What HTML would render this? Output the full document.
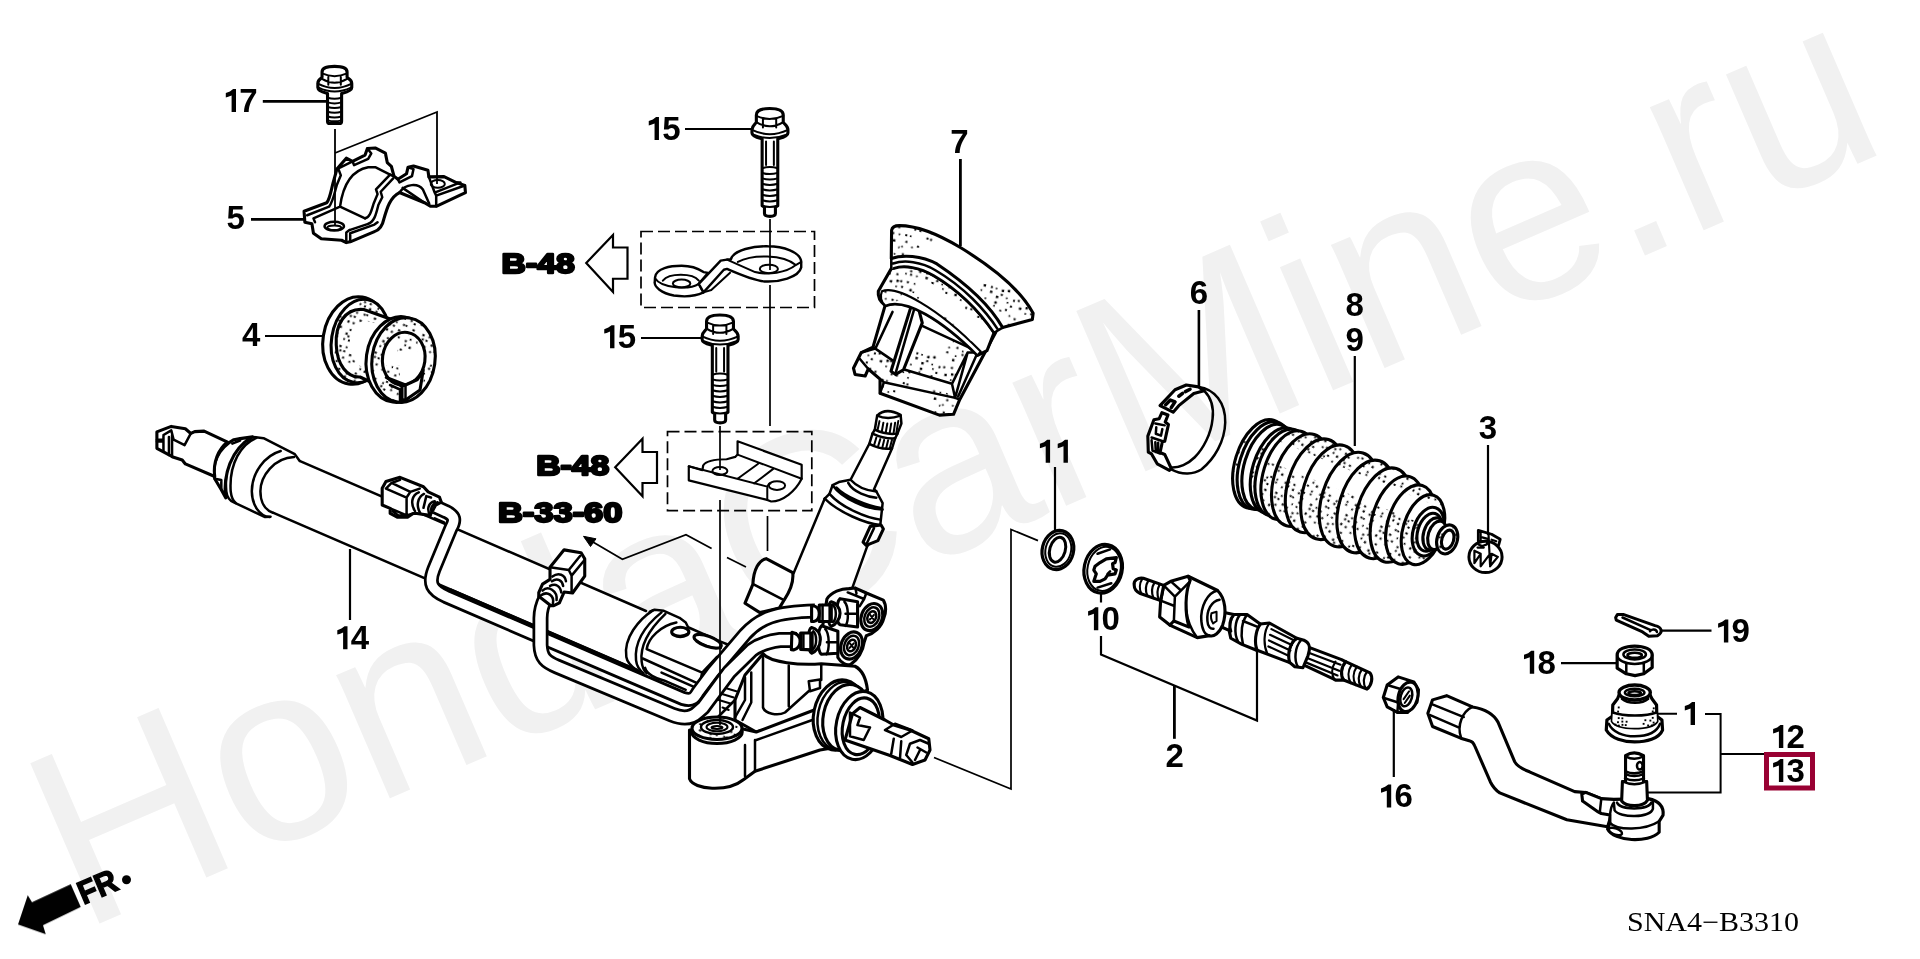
<!DOCTYPE html>
<html><head><meta charset="utf-8"><title>SNA4-B3310</title>
<style>
html,body{margin:0;padding:0;background:#fff;}
body{width:1920px;height:959px;overflow:hidden;font-family:"Liberation Sans",sans-serif;}
svg{display:block;position:absolute;left:0;top:0;}
svg *{vector-effect:non-scaling-stroke;}
.o{fill:none;stroke:#000;stroke-width:2.5;stroke-linejoin:round;stroke-linecap:round;}
.w{fill:#fff;stroke:#000;stroke-width:3.1;stroke-linejoin:round;stroke-linecap:round;}
.t{fill:none;stroke:#000;stroke-width:2;stroke-linejoin:round;stroke-linecap:round;}
.tw{fill:#fff;stroke:#000;stroke-width:2;stroke-linejoin:round;stroke-linecap:round;}
.l{fill:none;stroke:#000;stroke-width:2.2;}
.d{fill:url(#dots);stroke:#000;stroke-width:2;stroke-linejoin:round;}
.dn{fill:url(#dots);stroke:none;}
.d4{fill:url(#dots4);stroke:#000;stroke-width:2.8;stroke-linejoin:round;}.dn4{fill:url(#dots4);stroke:none;}
.d6{fill:url(#dots6);stroke:#000;stroke-width:2.8;stroke-linejoin:round;}.dn6{fill:url(#dots6);stroke:none;}
.d3{fill:url(#dots3);stroke:#000;stroke-width:2.8;stroke-linejoin:round;}.dn3{fill:url(#dots3);stroke:none;}
.d29{fill:url(#dots29);stroke:#000;stroke-width:2.8;stroke-linejoin:round;}.dn29{fill:url(#dots29);stroke:none;}
.dn5{fill:url(#dots5);stroke:none;}.dn10{fill:url(#dots10);stroke:none;}.dn8{fill:url(#dots8);stroke:none;}.dd4{fill:url(#dd4);stroke:none;}.dd8{fill:url(#dd8);stroke:none;}.dd5{fill:url(#dd5);stroke:none;}
.n{font-family:"Liberation Sans",sans-serif;font-weight:bold;font-size:33px;fill:#000;stroke:none;}
.b{font-family:"Liberation Sans",sans-serif;font-weight:bold;font-size:28.5px;fill:#000;stroke:#000;stroke-width:2.4;stroke-linejoin:round;}
</style></head><body>
<svg width="1920" height="959" viewBox="0 0 1920 959">
<defs>
<pattern id="dots" width="66" height="66" patternUnits="userSpaceOnUse" patternTransform="scale(1.0000) rotate(12)"><rect x="3.1" y="9.9" width="2.0" height="2.0" fill="#000"/><rect x="4.6" y="16.4" width="2.0" height="2.0" fill="#000"/><rect x="1.5" y="22.2" width="1.6" height="1.6" fill="#000"/><rect x="3.7" y="29.2" width="2.0" height="2.0" fill="#000"/><rect x="3.8" y="37.8" width="1.6" height="1.6" fill="#000"/><rect x="1.9" y="41.8" width="2.4" height="2.4" fill="#000"/><rect x="2.5" y="49.9" width="2.0" height="2.0" fill="#000"/><rect x="3.9" y="56.1" width="2.4" height="2.4" fill="#000"/><rect x="4.0" y="62.3" width="1.6" height="1.6" fill="#000"/><rect x="10.8" y="2.5" width="2.0" height="2.0" fill="#000"/><rect x="7.8" y="10.2" width="1.6" height="1.6" fill="#000"/><rect x="11.4" y="20.9" width="1.6" height="1.6" fill="#000"/><rect x="9.8" y="31.8" width="1.6" height="1.6" fill="#000"/><rect x="10.2" y="35.0" width="2.0" height="2.0" fill="#000"/><rect x="11.0" y="47.8" width="1.6" height="1.6" fill="#000"/><rect x="7.7" y="55.9" width="2.0" height="2.0" fill="#000"/><rect x="9.7" y="61.3" width="2.0" height="2.0" fill="#000"/><rect x="16.1" y="2.8" width="2.0" height="2.0" fill="#000"/><rect x="16.9" y="18.7" width="2.0" height="2.0" fill="#000"/><rect x="15.4" y="44.1" width="2.0" height="2.0" fill="#000"/><rect x="16.0" y="47.6" width="2.0" height="2.0" fill="#000"/><rect x="14.4" y="55.5" width="2.0" height="2.0" fill="#000"/><rect x="18.5" y="62.6" width="2.4" height="2.4" fill="#000"/><rect x="24.5" y="8.8" width="2.0" height="2.0" fill="#000"/><rect x="24.2" y="42.4" width="2.4" height="2.4" fill="#000"/><rect x="22.2" y="48.1" width="1.6" height="1.6" fill="#000"/><rect x="21.5" y="56.0" width="1.6" height="1.6" fill="#000"/><rect x="22.1" y="64.5" width="1.6" height="1.6" fill="#000"/><rect x="27.8" y="2.9" width="1.6" height="1.6" fill="#000"/><rect x="28.3" y="9.3" width="2.0" height="2.0" fill="#000"/><rect x="31.6" y="42.8" width="2.0" height="2.0" fill="#000"/><rect x="31.7" y="47.4" width="2.4" height="2.4" fill="#000"/><rect x="27.8" y="55.3" width="1.6" height="1.6" fill="#000"/><rect x="27.8" y="62.9" width="2.0" height="2.0" fill="#000"/><rect x="36.7" y="43.4" width="1.6" height="1.6" fill="#000"/><rect x="38.5" y="51.2" width="2.4" height="2.4" fill="#000"/><rect x="38.2" y="57.0" width="2.4" height="2.4" fill="#000"/><rect x="37.8" y="60.9" width="1.6" height="1.6" fill="#000"/><rect x="43.0" y="44.0" width="2.4" height="2.4" fill="#000"/><rect x="42.9" y="48.4" width="2.0" height="2.0" fill="#000"/><rect x="44.7" y="64.4" width="2.0" height="2.0" fill="#000"/><rect x="49.0" y="43.0" width="2.4" height="2.4" fill="#000"/><rect x="48.7" y="50.9" width="1.6" height="1.6" fill="#000"/><rect x="50.3" y="55.1" width="1.6" height="1.6" fill="#000"/><rect x="50.1" y="62.3" width="2.0" height="2.0" fill="#000"/><rect x="54.9" y="1.7" width="1.6" height="1.6" fill="#000"/><rect x="55.9" y="10.5" width="2.0" height="2.0" fill="#000"/><rect x="58.1" y="17.3" width="2.4" height="2.4" fill="#000"/><rect x="56.1" y="51.7" width="2.0" height="2.0" fill="#000"/><rect x="54.3" y="58.0" width="2.0" height="2.0" fill="#000"/><rect x="60.5" y="3.5" width="2.0" height="2.0" fill="#000"/><rect x="62.5" y="10.6" width="1.6" height="1.6" fill="#000"/><rect x="64.8" y="23.3" width="2.0" height="2.0" fill="#000"/><rect x="61.7" y="30.7" width="1.6" height="1.6" fill="#000"/><rect x="60.7" y="35.6" width="2.0" height="2.0" fill="#000"/><rect x="60.8" y="50.8" width="2.0" height="2.0" fill="#000"/><rect x="63.5" y="57.9" width="2.4" height="2.4" fill="#000"/></pattern><pattern id="dots4" width="66" height="66" patternUnits="userSpaceOnUse" patternTransform="scale(4.0000) rotate(12)"><rect x="3.1" y="9.9" width="2.0" height="2.0" fill="#000"/><rect x="4.6" y="16.4" width="2.0" height="2.0" fill="#000"/><rect x="1.5" y="22.2" width="1.6" height="1.6" fill="#000"/><rect x="3.7" y="29.2" width="2.0" height="2.0" fill="#000"/><rect x="3.8" y="37.8" width="1.6" height="1.6" fill="#000"/><rect x="1.9" y="41.8" width="2.4" height="2.4" fill="#000"/><rect x="2.5" y="49.9" width="2.0" height="2.0" fill="#000"/><rect x="3.9" y="56.1" width="2.4" height="2.4" fill="#000"/><rect x="4.0" y="62.3" width="1.6" height="1.6" fill="#000"/><rect x="10.8" y="2.5" width="2.0" height="2.0" fill="#000"/><rect x="7.8" y="10.2" width="1.6" height="1.6" fill="#000"/><rect x="11.4" y="20.9" width="1.6" height="1.6" fill="#000"/><rect x="9.8" y="31.8" width="1.6" height="1.6" fill="#000"/><rect x="10.2" y="35.0" width="2.0" height="2.0" fill="#000"/><rect x="11.0" y="47.8" width="1.6" height="1.6" fill="#000"/><rect x="7.7" y="55.9" width="2.0" height="2.0" fill="#000"/><rect x="9.7" y="61.3" width="2.0" height="2.0" fill="#000"/><rect x="16.1" y="2.8" width="2.0" height="2.0" fill="#000"/><rect x="16.9" y="18.7" width="2.0" height="2.0" fill="#000"/><rect x="15.4" y="44.1" width="2.0" height="2.0" fill="#000"/><rect x="16.0" y="47.6" width="2.0" height="2.0" fill="#000"/><rect x="14.4" y="55.5" width="2.0" height="2.0" fill="#000"/><rect x="18.5" y="62.6" width="2.4" height="2.4" fill="#000"/><rect x="24.5" y="8.8" width="2.0" height="2.0" fill="#000"/><rect x="24.2" y="42.4" width="2.4" height="2.4" fill="#000"/><rect x="22.2" y="48.1" width="1.6" height="1.6" fill="#000"/><rect x="21.5" y="56.0" width="1.6" height="1.6" fill="#000"/><rect x="22.1" y="64.5" width="1.6" height="1.6" fill="#000"/><rect x="27.8" y="2.9" width="1.6" height="1.6" fill="#000"/><rect x="28.3" y="9.3" width="2.0" height="2.0" fill="#000"/><rect x="31.6" y="42.8" width="2.0" height="2.0" fill="#000"/><rect x="31.7" y="47.4" width="2.4" height="2.4" fill="#000"/><rect x="27.8" y="55.3" width="1.6" height="1.6" fill="#000"/><rect x="27.8" y="62.9" width="2.0" height="2.0" fill="#000"/><rect x="36.7" y="43.4" width="1.6" height="1.6" fill="#000"/><rect x="38.5" y="51.2" width="2.4" height="2.4" fill="#000"/><rect x="38.2" y="57.0" width="2.4" height="2.4" fill="#000"/><rect x="37.8" y="60.9" width="1.6" height="1.6" fill="#000"/><rect x="43.0" y="44.0" width="2.4" height="2.4" fill="#000"/><rect x="42.9" y="48.4" width="2.0" height="2.0" fill="#000"/><rect x="44.7" y="64.4" width="2.0" height="2.0" fill="#000"/><rect x="49.0" y="43.0" width="2.4" height="2.4" fill="#000"/><rect x="48.7" y="50.9" width="1.6" height="1.6" fill="#000"/><rect x="50.3" y="55.1" width="1.6" height="1.6" fill="#000"/><rect x="50.1" y="62.3" width="2.0" height="2.0" fill="#000"/><rect x="54.9" y="1.7" width="1.6" height="1.6" fill="#000"/><rect x="55.9" y="10.5" width="2.0" height="2.0" fill="#000"/><rect x="58.1" y="17.3" width="2.4" height="2.4" fill="#000"/><rect x="56.1" y="51.7" width="2.0" height="2.0" fill="#000"/><rect x="54.3" y="58.0" width="2.0" height="2.0" fill="#000"/><rect x="60.5" y="3.5" width="2.0" height="2.0" fill="#000"/><rect x="62.5" y="10.6" width="1.6" height="1.6" fill="#000"/><rect x="64.8" y="23.3" width="2.0" height="2.0" fill="#000"/><rect x="61.7" y="30.7" width="1.6" height="1.6" fill="#000"/><rect x="60.7" y="35.6" width="2.0" height="2.0" fill="#000"/><rect x="60.8" y="50.8" width="2.0" height="2.0" fill="#000"/><rect x="63.5" y="57.9" width="2.4" height="2.4" fill="#000"/></pattern><pattern id="dots6" width="66" height="66" patternUnits="userSpaceOnUse" patternTransform="scale(6.3951) rotate(12)"><rect x="3.1" y="9.9" width="2.0" height="2.0" fill="#000"/><rect x="4.6" y="16.4" width="2.0" height="2.0" fill="#000"/><rect x="1.5" y="22.2" width="1.6" height="1.6" fill="#000"/><rect x="3.7" y="29.2" width="2.0" height="2.0" fill="#000"/><rect x="3.8" y="37.8" width="1.6" height="1.6" fill="#000"/><rect x="1.9" y="41.8" width="2.4" height="2.4" fill="#000"/><rect x="2.5" y="49.9" width="2.0" height="2.0" fill="#000"/><rect x="3.9" y="56.1" width="2.4" height="2.4" fill="#000"/><rect x="4.0" y="62.3" width="1.6" height="1.6" fill="#000"/><rect x="10.8" y="2.5" width="2.0" height="2.0" fill="#000"/><rect x="7.8" y="10.2" width="1.6" height="1.6" fill="#000"/><rect x="11.4" y="20.9" width="1.6" height="1.6" fill="#000"/><rect x="9.8" y="31.8" width="1.6" height="1.6" fill="#000"/><rect x="10.2" y="35.0" width="2.0" height="2.0" fill="#000"/><rect x="11.0" y="47.8" width="1.6" height="1.6" fill="#000"/><rect x="7.7" y="55.9" width="2.0" height="2.0" fill="#000"/><rect x="9.7" y="61.3" width="2.0" height="2.0" fill="#000"/><rect x="16.1" y="2.8" width="2.0" height="2.0" fill="#000"/><rect x="16.9" y="18.7" width="2.0" height="2.0" fill="#000"/><rect x="15.4" y="44.1" width="2.0" height="2.0" fill="#000"/><rect x="16.0" y="47.6" width="2.0" height="2.0" fill="#000"/><rect x="14.4" y="55.5" width="2.0" height="2.0" fill="#000"/><rect x="18.5" y="62.6" width="2.4" height="2.4" fill="#000"/><rect x="24.5" y="8.8" width="2.0" height="2.0" fill="#000"/><rect x="24.2" y="42.4" width="2.4" height="2.4" fill="#000"/><rect x="22.2" y="48.1" width="1.6" height="1.6" fill="#000"/><rect x="21.5" y="56.0" width="1.6" height="1.6" fill="#000"/><rect x="22.1" y="64.5" width="1.6" height="1.6" fill="#000"/><rect x="27.8" y="2.9" width="1.6" height="1.6" fill="#000"/><rect x="28.3" y="9.3" width="2.0" height="2.0" fill="#000"/><rect x="31.6" y="42.8" width="2.0" height="2.0" fill="#000"/><rect x="31.7" y="47.4" width="2.4" height="2.4" fill="#000"/><rect x="27.8" y="55.3" width="1.6" height="1.6" fill="#000"/><rect x="27.8" y="62.9" width="2.0" height="2.0" fill="#000"/><rect x="36.7" y="43.4" width="1.6" height="1.6" fill="#000"/><rect x="38.5" y="51.2" width="2.4" height="2.4" fill="#000"/><rect x="38.2" y="57.0" width="2.4" height="2.4" fill="#000"/><rect x="37.8" y="60.9" width="1.6" height="1.6" fill="#000"/><rect x="43.0" y="44.0" width="2.4" height="2.4" fill="#000"/><rect x="42.9" y="48.4" width="2.0" height="2.0" fill="#000"/><rect x="44.7" y="64.4" width="2.0" height="2.0" fill="#000"/><rect x="49.0" y="43.0" width="2.4" height="2.4" fill="#000"/><rect x="48.7" y="50.9" width="1.6" height="1.6" fill="#000"/><rect x="50.3" y="55.1" width="1.6" height="1.6" fill="#000"/><rect x="50.1" y="62.3" width="2.0" height="2.0" fill="#000"/><rect x="54.9" y="1.7" width="1.6" height="1.6" fill="#000"/><rect x="55.9" y="10.5" width="2.0" height="2.0" fill="#000"/><rect x="58.1" y="17.3" width="2.4" height="2.4" fill="#000"/><rect x="56.1" y="51.7" width="2.0" height="2.0" fill="#000"/><rect x="54.3" y="58.0" width="2.0" height="2.0" fill="#000"/><rect x="60.5" y="3.5" width="2.0" height="2.0" fill="#000"/><rect x="62.5" y="10.6" width="1.6" height="1.6" fill="#000"/><rect x="64.8" y="23.3" width="2.0" height="2.0" fill="#000"/><rect x="61.7" y="30.7" width="1.6" height="1.6" fill="#000"/><rect x="60.7" y="35.6" width="2.0" height="2.0" fill="#000"/><rect x="60.8" y="50.8" width="2.0" height="2.0" fill="#000"/><rect x="63.5" y="57.9" width="2.4" height="2.4" fill="#000"/></pattern><pattern id="dots3" width="66" height="66" patternUnits="userSpaceOnUse" patternTransform="scale(2.9969) rotate(12)"><rect x="3.1" y="9.9" width="2.0" height="2.0" fill="#000"/><rect x="4.6" y="16.4" width="2.0" height="2.0" fill="#000"/><rect x="1.5" y="22.2" width="1.6" height="1.6" fill="#000"/><rect x="3.7" y="29.2" width="2.0" height="2.0" fill="#000"/><rect x="3.8" y="37.8" width="1.6" height="1.6" fill="#000"/><rect x="1.9" y="41.8" width="2.4" height="2.4" fill="#000"/><rect x="2.5" y="49.9" width="2.0" height="2.0" fill="#000"/><rect x="3.9" y="56.1" width="2.4" height="2.4" fill="#000"/><rect x="4.0" y="62.3" width="1.6" height="1.6" fill="#000"/><rect x="10.8" y="2.5" width="2.0" height="2.0" fill="#000"/><rect x="7.8" y="10.2" width="1.6" height="1.6" fill="#000"/><rect x="11.4" y="20.9" width="1.6" height="1.6" fill="#000"/><rect x="9.8" y="31.8" width="1.6" height="1.6" fill="#000"/><rect x="10.2" y="35.0" width="2.0" height="2.0" fill="#000"/><rect x="11.0" y="47.8" width="1.6" height="1.6" fill="#000"/><rect x="7.7" y="55.9" width="2.0" height="2.0" fill="#000"/><rect x="9.7" y="61.3" width="2.0" height="2.0" fill="#000"/><rect x="16.1" y="2.8" width="2.0" height="2.0" fill="#000"/><rect x="16.9" y="18.7" width="2.0" height="2.0" fill="#000"/><rect x="15.4" y="44.1" width="2.0" height="2.0" fill="#000"/><rect x="16.0" y="47.6" width="2.0" height="2.0" fill="#000"/><rect x="14.4" y="55.5" width="2.0" height="2.0" fill="#000"/><rect x="18.5" y="62.6" width="2.4" height="2.4" fill="#000"/><rect x="24.5" y="8.8" width="2.0" height="2.0" fill="#000"/><rect x="24.2" y="42.4" width="2.4" height="2.4" fill="#000"/><rect x="22.2" y="48.1" width="1.6" height="1.6" fill="#000"/><rect x="21.5" y="56.0" width="1.6" height="1.6" fill="#000"/><rect x="22.1" y="64.5" width="1.6" height="1.6" fill="#000"/><rect x="27.8" y="2.9" width="1.6" height="1.6" fill="#000"/><rect x="28.3" y="9.3" width="2.0" height="2.0" fill="#000"/><rect x="31.6" y="42.8" width="2.0" height="2.0" fill="#000"/><rect x="31.7" y="47.4" width="2.4" height="2.4" fill="#000"/><rect x="27.8" y="55.3" width="1.6" height="1.6" fill="#000"/><rect x="27.8" y="62.9" width="2.0" height="2.0" fill="#000"/><rect x="36.7" y="43.4" width="1.6" height="1.6" fill="#000"/><rect x="38.5" y="51.2" width="2.4" height="2.4" fill="#000"/><rect x="38.2" y="57.0" width="2.4" height="2.4" fill="#000"/><rect x="37.8" y="60.9" width="1.6" height="1.6" fill="#000"/><rect x="43.0" y="44.0" width="2.4" height="2.4" fill="#000"/><rect x="42.9" y="48.4" width="2.0" height="2.0" fill="#000"/><rect x="44.7" y="64.4" width="2.0" height="2.0" fill="#000"/><rect x="49.0" y="43.0" width="2.4" height="2.4" fill="#000"/><rect x="48.7" y="50.9" width="1.6" height="1.6" fill="#000"/><rect x="50.3" y="55.1" width="1.6" height="1.6" fill="#000"/><rect x="50.1" y="62.3" width="2.0" height="2.0" fill="#000"/><rect x="54.9" y="1.7" width="1.6" height="1.6" fill="#000"/><rect x="55.9" y="10.5" width="2.0" height="2.0" fill="#000"/><rect x="58.1" y="17.3" width="2.4" height="2.4" fill="#000"/><rect x="56.1" y="51.7" width="2.0" height="2.0" fill="#000"/><rect x="54.3" y="58.0" width="2.0" height="2.0" fill="#000"/><rect x="60.5" y="3.5" width="2.0" height="2.0" fill="#000"/><rect x="62.5" y="10.6" width="1.6" height="1.6" fill="#000"/><rect x="64.8" y="23.3" width="2.0" height="2.0" fill="#000"/><rect x="61.7" y="30.7" width="1.6" height="1.6" fill="#000"/><rect x="60.7" y="35.6" width="2.0" height="2.0" fill="#000"/><rect x="60.8" y="50.8" width="2.0" height="2.0" fill="#000"/><rect x="63.5" y="57.9" width="2.4" height="2.4" fill="#000"/></pattern><pattern id="dots29" width="66" height="66" patternUnits="userSpaceOnUse" patternTransform="scale(2.9068) rotate(12)"><rect x="3.1" y="9.9" width="2.0" height="2.0" fill="#000"/><rect x="4.6" y="16.4" width="2.0" height="2.0" fill="#000"/><rect x="1.5" y="22.2" width="1.6" height="1.6" fill="#000"/><rect x="3.7" y="29.2" width="2.0" height="2.0" fill="#000"/><rect x="3.8" y="37.8" width="1.6" height="1.6" fill="#000"/><rect x="1.9" y="41.8" width="2.4" height="2.4" fill="#000"/><rect x="2.5" y="49.9" width="2.0" height="2.0" fill="#000"/><rect x="3.9" y="56.1" width="2.4" height="2.4" fill="#000"/><rect x="4.0" y="62.3" width="1.6" height="1.6" fill="#000"/><rect x="10.8" y="2.5" width="2.0" height="2.0" fill="#000"/><rect x="7.8" y="10.2" width="1.6" height="1.6" fill="#000"/><rect x="11.4" y="20.9" width="1.6" height="1.6" fill="#000"/><rect x="9.8" y="31.8" width="1.6" height="1.6" fill="#000"/><rect x="10.2" y="35.0" width="2.0" height="2.0" fill="#000"/><rect x="11.0" y="47.8" width="1.6" height="1.6" fill="#000"/><rect x="7.7" y="55.9" width="2.0" height="2.0" fill="#000"/><rect x="9.7" y="61.3" width="2.0" height="2.0" fill="#000"/><rect x="16.1" y="2.8" width="2.0" height="2.0" fill="#000"/><rect x="16.9" y="18.7" width="2.0" height="2.0" fill="#000"/><rect x="15.4" y="44.1" width="2.0" height="2.0" fill="#000"/><rect x="16.0" y="47.6" width="2.0" height="2.0" fill="#000"/><rect x="14.4" y="55.5" width="2.0" height="2.0" fill="#000"/><rect x="18.5" y="62.6" width="2.4" height="2.4" fill="#000"/><rect x="24.5" y="8.8" width="2.0" height="2.0" fill="#000"/><rect x="24.2" y="42.4" width="2.4" height="2.4" fill="#000"/><rect x="22.2" y="48.1" width="1.6" height="1.6" fill="#000"/><rect x="21.5" y="56.0" width="1.6" height="1.6" fill="#000"/><rect x="22.1" y="64.5" width="1.6" height="1.6" fill="#000"/><rect x="27.8" y="2.9" width="1.6" height="1.6" fill="#000"/><rect x="28.3" y="9.3" width="2.0" height="2.0" fill="#000"/><rect x="31.6" y="42.8" width="2.0" height="2.0" fill="#000"/><rect x="31.7" y="47.4" width="2.4" height="2.4" fill="#000"/><rect x="27.8" y="55.3" width="1.6" height="1.6" fill="#000"/><rect x="27.8" y="62.9" width="2.0" height="2.0" fill="#000"/><rect x="36.7" y="43.4" width="1.6" height="1.6" fill="#000"/><rect x="38.5" y="51.2" width="2.4" height="2.4" fill="#000"/><rect x="38.2" y="57.0" width="2.4" height="2.4" fill="#000"/><rect x="37.8" y="60.9" width="1.6" height="1.6" fill="#000"/><rect x="43.0" y="44.0" width="2.4" height="2.4" fill="#000"/><rect x="42.9" y="48.4" width="2.0" height="2.0" fill="#000"/><rect x="44.7" y="64.4" width="2.0" height="2.0" fill="#000"/><rect x="49.0" y="43.0" width="2.4" height="2.4" fill="#000"/><rect x="48.7" y="50.9" width="1.6" height="1.6" fill="#000"/><rect x="50.3" y="55.1" width="1.6" height="1.6" fill="#000"/><rect x="50.1" y="62.3" width="2.0" height="2.0" fill="#000"/><rect x="54.9" y="1.7" width="1.6" height="1.6" fill="#000"/><rect x="55.9" y="10.5" width="2.0" height="2.0" fill="#000"/><rect x="58.1" y="17.3" width="2.4" height="2.4" fill="#000"/><rect x="56.1" y="51.7" width="2.0" height="2.0" fill="#000"/><rect x="54.3" y="58.0" width="2.0" height="2.0" fill="#000"/><rect x="60.5" y="3.5" width="2.0" height="2.0" fill="#000"/><rect x="62.5" y="10.6" width="1.6" height="1.6" fill="#000"/><rect x="64.8" y="23.3" width="2.0" height="2.0" fill="#000"/><rect x="61.7" y="30.7" width="1.6" height="1.6" fill="#000"/><rect x="60.7" y="35.6" width="2.0" height="2.0" fill="#000"/><rect x="60.8" y="50.8" width="2.0" height="2.0" fill="#000"/><rect x="63.5" y="57.9" width="2.4" height="2.4" fill="#000"/></pattern><pattern id="dots5" width="66" height="66" patternUnits="userSpaceOnUse" patternTransform="scale(5.1280) rotate(12)"><rect x="3.1" y="9.9" width="2.0" height="2.0" fill="#000"/><rect x="4.6" y="16.4" width="2.0" height="2.0" fill="#000"/><rect x="1.5" y="22.2" width="1.6" height="1.6" fill="#000"/><rect x="3.7" y="29.2" width="2.0" height="2.0" fill="#000"/><rect x="3.8" y="37.8" width="1.6" height="1.6" fill="#000"/><rect x="1.9" y="41.8" width="2.4" height="2.4" fill="#000"/><rect x="2.5" y="49.9" width="2.0" height="2.0" fill="#000"/><rect x="3.9" y="56.1" width="2.4" height="2.4" fill="#000"/><rect x="4.0" y="62.3" width="1.6" height="1.6" fill="#000"/><rect x="10.8" y="2.5" width="2.0" height="2.0" fill="#000"/><rect x="7.8" y="10.2" width="1.6" height="1.6" fill="#000"/><rect x="11.4" y="20.9" width="1.6" height="1.6" fill="#000"/><rect x="9.8" y="31.8" width="1.6" height="1.6" fill="#000"/><rect x="10.2" y="35.0" width="2.0" height="2.0" fill="#000"/><rect x="11.0" y="47.8" width="1.6" height="1.6" fill="#000"/><rect x="7.7" y="55.9" width="2.0" height="2.0" fill="#000"/><rect x="9.7" y="61.3" width="2.0" height="2.0" fill="#000"/><rect x="16.1" y="2.8" width="2.0" height="2.0" fill="#000"/><rect x="16.9" y="18.7" width="2.0" height="2.0" fill="#000"/><rect x="15.4" y="44.1" width="2.0" height="2.0" fill="#000"/><rect x="16.0" y="47.6" width="2.0" height="2.0" fill="#000"/><rect x="14.4" y="55.5" width="2.0" height="2.0" fill="#000"/><rect x="18.5" y="62.6" width="2.4" height="2.4" fill="#000"/><rect x="24.5" y="8.8" width="2.0" height="2.0" fill="#000"/><rect x="24.2" y="42.4" width="2.4" height="2.4" fill="#000"/><rect x="22.2" y="48.1" width="1.6" height="1.6" fill="#000"/><rect x="21.5" y="56.0" width="1.6" height="1.6" fill="#000"/><rect x="22.1" y="64.5" width="1.6" height="1.6" fill="#000"/><rect x="27.8" y="2.9" width="1.6" height="1.6" fill="#000"/><rect x="28.3" y="9.3" width="2.0" height="2.0" fill="#000"/><rect x="31.6" y="42.8" width="2.0" height="2.0" fill="#000"/><rect x="31.7" y="47.4" width="2.4" height="2.4" fill="#000"/><rect x="27.8" y="55.3" width="1.6" height="1.6" fill="#000"/><rect x="27.8" y="62.9" width="2.0" height="2.0" fill="#000"/><rect x="36.7" y="43.4" width="1.6" height="1.6" fill="#000"/><rect x="38.5" y="51.2" width="2.4" height="2.4" fill="#000"/><rect x="38.2" y="57.0" width="2.4" height="2.4" fill="#000"/><rect x="37.8" y="60.9" width="1.6" height="1.6" fill="#000"/><rect x="43.0" y="44.0" width="2.4" height="2.4" fill="#000"/><rect x="42.9" y="48.4" width="2.0" height="2.0" fill="#000"/><rect x="44.7" y="64.4" width="2.0" height="2.0" fill="#000"/><rect x="49.0" y="43.0" width="2.4" height="2.4" fill="#000"/><rect x="48.7" y="50.9" width="1.6" height="1.6" fill="#000"/><rect x="50.3" y="55.1" width="1.6" height="1.6" fill="#000"/><rect x="50.1" y="62.3" width="2.0" height="2.0" fill="#000"/><rect x="54.9" y="1.7" width="1.6" height="1.6" fill="#000"/><rect x="55.9" y="10.5" width="2.0" height="2.0" fill="#000"/><rect x="58.1" y="17.3" width="2.4" height="2.4" fill="#000"/><rect x="56.1" y="51.7" width="2.0" height="2.0" fill="#000"/><rect x="54.3" y="58.0" width="2.0" height="2.0" fill="#000"/><rect x="60.5" y="3.5" width="2.0" height="2.0" fill="#000"/><rect x="62.5" y="10.6" width="1.6" height="1.6" fill="#000"/><rect x="64.8" y="23.3" width="2.0" height="2.0" fill="#000"/><rect x="61.7" y="30.7" width="1.6" height="1.6" fill="#000"/><rect x="60.7" y="35.6" width="2.0" height="2.0" fill="#000"/><rect x="60.8" y="50.8" width="2.0" height="2.0" fill="#000"/><rect x="63.5" y="57.9" width="2.4" height="2.4" fill="#000"/></pattern><pattern id="dots10" width="66" height="66" patternUnits="userSpaceOnUse" patternTransform="scale(10.6583) rotate(12)"><rect x="3.1" y="9.9" width="2.0" height="2.0" fill="#000"/><rect x="4.6" y="16.4" width="2.0" height="2.0" fill="#000"/><rect x="1.5" y="22.2" width="1.6" height="1.6" fill="#000"/><rect x="3.7" y="29.2" width="2.0" height="2.0" fill="#000"/><rect x="3.8" y="37.8" width="1.6" height="1.6" fill="#000"/><rect x="1.9" y="41.8" width="2.4" height="2.4" fill="#000"/><rect x="2.5" y="49.9" width="2.0" height="2.0" fill="#000"/><rect x="3.9" y="56.1" width="2.4" height="2.4" fill="#000"/><rect x="4.0" y="62.3" width="1.6" height="1.6" fill="#000"/><rect x="10.8" y="2.5" width="2.0" height="2.0" fill="#000"/><rect x="7.8" y="10.2" width="1.6" height="1.6" fill="#000"/><rect x="11.4" y="20.9" width="1.6" height="1.6" fill="#000"/><rect x="9.8" y="31.8" width="1.6" height="1.6" fill="#000"/><rect x="10.2" y="35.0" width="2.0" height="2.0" fill="#000"/><rect x="11.0" y="47.8" width="1.6" height="1.6" fill="#000"/><rect x="7.7" y="55.9" width="2.0" height="2.0" fill="#000"/><rect x="9.7" y="61.3" width="2.0" height="2.0" fill="#000"/><rect x="16.1" y="2.8" width="2.0" height="2.0" fill="#000"/><rect x="16.9" y="18.7" width="2.0" height="2.0" fill="#000"/><rect x="15.4" y="44.1" width="2.0" height="2.0" fill="#000"/><rect x="16.0" y="47.6" width="2.0" height="2.0" fill="#000"/><rect x="14.4" y="55.5" width="2.0" height="2.0" fill="#000"/><rect x="18.5" y="62.6" width="2.4" height="2.4" fill="#000"/><rect x="24.5" y="8.8" width="2.0" height="2.0" fill="#000"/><rect x="24.2" y="42.4" width="2.4" height="2.4" fill="#000"/><rect x="22.2" y="48.1" width="1.6" height="1.6" fill="#000"/><rect x="21.5" y="56.0" width="1.6" height="1.6" fill="#000"/><rect x="22.1" y="64.5" width="1.6" height="1.6" fill="#000"/><rect x="27.8" y="2.9" width="1.6" height="1.6" fill="#000"/><rect x="28.3" y="9.3" width="2.0" height="2.0" fill="#000"/><rect x="31.6" y="42.8" width="2.0" height="2.0" fill="#000"/><rect x="31.7" y="47.4" width="2.4" height="2.4" fill="#000"/><rect x="27.8" y="55.3" width="1.6" height="1.6" fill="#000"/><rect x="27.8" y="62.9" width="2.0" height="2.0" fill="#000"/><rect x="36.7" y="43.4" width="1.6" height="1.6" fill="#000"/><rect x="38.5" y="51.2" width="2.4" height="2.4" fill="#000"/><rect x="38.2" y="57.0" width="2.4" height="2.4" fill="#000"/><rect x="37.8" y="60.9" width="1.6" height="1.6" fill="#000"/><rect x="43.0" y="44.0" width="2.4" height="2.4" fill="#000"/><rect x="42.9" y="48.4" width="2.0" height="2.0" fill="#000"/><rect x="44.7" y="64.4" width="2.0" height="2.0" fill="#000"/><rect x="49.0" y="43.0" width="2.4" height="2.4" fill="#000"/><rect x="48.7" y="50.9" width="1.6" height="1.6" fill="#000"/><rect x="50.3" y="55.1" width="1.6" height="1.6" fill="#000"/><rect x="50.1" y="62.3" width="2.0" height="2.0" fill="#000"/><rect x="54.9" y="1.7" width="1.6" height="1.6" fill="#000"/><rect x="55.9" y="10.5" width="2.0" height="2.0" fill="#000"/><rect x="58.1" y="17.3" width="2.4" height="2.4" fill="#000"/><rect x="56.1" y="51.7" width="2.0" height="2.0" fill="#000"/><rect x="54.3" y="58.0" width="2.0" height="2.0" fill="#000"/><rect x="60.5" y="3.5" width="2.0" height="2.0" fill="#000"/><rect x="62.5" y="10.6" width="1.6" height="1.6" fill="#000"/><rect x="64.8" y="23.3" width="2.0" height="2.0" fill="#000"/><rect x="61.7" y="30.7" width="1.6" height="1.6" fill="#000"/><rect x="60.7" y="35.6" width="2.0" height="2.0" fill="#000"/><rect x="60.8" y="50.8" width="2.0" height="2.0" fill="#000"/><rect x="63.5" y="57.9" width="2.4" height="2.4" fill="#000"/></pattern><pattern id="dots8" width="66" height="66" patternUnits="userSpaceOnUse" patternTransform="scale(8.0000) rotate(12)"><rect x="3.1" y="9.9" width="2.0" height="2.0" fill="#000"/><rect x="4.6" y="16.4" width="2.0" height="2.0" fill="#000"/><rect x="1.5" y="22.2" width="1.6" height="1.6" fill="#000"/><rect x="3.7" y="29.2" width="2.0" height="2.0" fill="#000"/><rect x="3.8" y="37.8" width="1.6" height="1.6" fill="#000"/><rect x="1.9" y="41.8" width="2.4" height="2.4" fill="#000"/><rect x="2.5" y="49.9" width="2.0" height="2.0" fill="#000"/><rect x="3.9" y="56.1" width="2.4" height="2.4" fill="#000"/><rect x="4.0" y="62.3" width="1.6" height="1.6" fill="#000"/><rect x="10.8" y="2.5" width="2.0" height="2.0" fill="#000"/><rect x="7.8" y="10.2" width="1.6" height="1.6" fill="#000"/><rect x="11.4" y="20.9" width="1.6" height="1.6" fill="#000"/><rect x="9.8" y="31.8" width="1.6" height="1.6" fill="#000"/><rect x="10.2" y="35.0" width="2.0" height="2.0" fill="#000"/><rect x="11.0" y="47.8" width="1.6" height="1.6" fill="#000"/><rect x="7.7" y="55.9" width="2.0" height="2.0" fill="#000"/><rect x="9.7" y="61.3" width="2.0" height="2.0" fill="#000"/><rect x="16.1" y="2.8" width="2.0" height="2.0" fill="#000"/><rect x="16.9" y="18.7" width="2.0" height="2.0" fill="#000"/><rect x="15.4" y="44.1" width="2.0" height="2.0" fill="#000"/><rect x="16.0" y="47.6" width="2.0" height="2.0" fill="#000"/><rect x="14.4" y="55.5" width="2.0" height="2.0" fill="#000"/><rect x="18.5" y="62.6" width="2.4" height="2.4" fill="#000"/><rect x="24.5" y="8.8" width="2.0" height="2.0" fill="#000"/><rect x="24.2" y="42.4" width="2.4" height="2.4" fill="#000"/><rect x="22.2" y="48.1" width="1.6" height="1.6" fill="#000"/><rect x="21.5" y="56.0" width="1.6" height="1.6" fill="#000"/><rect x="22.1" y="64.5" width="1.6" height="1.6" fill="#000"/><rect x="27.8" y="2.9" width="1.6" height="1.6" fill="#000"/><rect x="28.3" y="9.3" width="2.0" height="2.0" fill="#000"/><rect x="31.6" y="42.8" width="2.0" height="2.0" fill="#000"/><rect x="31.7" y="47.4" width="2.4" height="2.4" fill="#000"/><rect x="27.8" y="55.3" width="1.6" height="1.6" fill="#000"/><rect x="27.8" y="62.9" width="2.0" height="2.0" fill="#000"/><rect x="36.7" y="43.4" width="1.6" height="1.6" fill="#000"/><rect x="38.5" y="51.2" width="2.4" height="2.4" fill="#000"/><rect x="38.2" y="57.0" width="2.4" height="2.4" fill="#000"/><rect x="37.8" y="60.9" width="1.6" height="1.6" fill="#000"/><rect x="43.0" y="44.0" width="2.4" height="2.4" fill="#000"/><rect x="42.9" y="48.4" width="2.0" height="2.0" fill="#000"/><rect x="44.7" y="64.4" width="2.0" height="2.0" fill="#000"/><rect x="49.0" y="43.0" width="2.4" height="2.4" fill="#000"/><rect x="48.7" y="50.9" width="1.6" height="1.6" fill="#000"/><rect x="50.3" y="55.1" width="1.6" height="1.6" fill="#000"/><rect x="50.1" y="62.3" width="2.0" height="2.0" fill="#000"/><rect x="54.9" y="1.7" width="1.6" height="1.6" fill="#000"/><rect x="55.9" y="10.5" width="2.0" height="2.0" fill="#000"/><rect x="58.1" y="17.3" width="2.4" height="2.4" fill="#000"/><rect x="56.1" y="51.7" width="2.0" height="2.0" fill="#000"/><rect x="54.3" y="58.0" width="2.0" height="2.0" fill="#000"/><rect x="60.5" y="3.5" width="2.0" height="2.0" fill="#000"/><rect x="62.5" y="10.6" width="1.6" height="1.6" fill="#000"/><rect x="64.8" y="23.3" width="2.0" height="2.0" fill="#000"/><rect x="61.7" y="30.7" width="1.6" height="1.6" fill="#000"/><rect x="60.7" y="35.6" width="2.0" height="2.0" fill="#000"/><rect x="60.8" y="50.8" width="2.0" height="2.0" fill="#000"/><rect x="63.5" y="57.9" width="2.4" height="2.4" fill="#000"/></pattern><pattern id="dd4" width="36" height="36" patternUnits="userSpaceOnUse" patternTransform="scale(4.0000) rotate(17)"><rect x="3.4" y="3.9" width="2.2" height="2.2" fill="#000"/><rect x="3.5" y="9.1" width="1.8" height="1.8" fill="#000"/><rect x="3.5" y="16.4" width="2.0" height="2.0" fill="#000"/><rect x="4.3" y="20.6" width="1.8" height="1.8" fill="#000"/><rect x="1.2" y="26.0" width="2.0" height="2.0" fill="#000"/><rect x="1.8" y="34.1" width="2.2" height="2.2" fill="#000"/><rect x="7.8" y="13.8" width="1.8" height="1.8" fill="#000"/><rect x="9.1" y="21.6" width="2.2" height="2.2" fill="#000"/><rect x="7.9" y="28.7" width="1.8" height="1.8" fill="#000"/><rect x="8.5" y="31.8" width="1.8" height="1.8" fill="#000"/><rect x="14.4" y="4.1" width="2.2" height="2.2" fill="#000"/><rect x="15.6" y="8.4" width="2.0" height="2.0" fill="#000"/><rect x="14.9" y="14.3" width="2.2" height="2.2" fill="#000"/><rect x="16.6" y="26.5" width="2.2" height="2.2" fill="#000"/><rect x="16.0" y="32.5" width="1.8" height="1.8" fill="#000"/><rect x="20.8" y="3.7" width="1.8" height="1.8" fill="#000"/><rect x="19.6" y="8.1" width="2.0" height="2.0" fill="#000"/><rect x="20.4" y="14.5" width="2.0" height="2.0" fill="#000"/><rect x="19.6" y="21.9" width="2.0" height="2.0" fill="#000"/><rect x="19.3" y="28.6" width="2.0" height="2.0" fill="#000"/><rect x="21.0" y="32.5" width="2.0" height="2.0" fill="#000"/><rect x="28.5" y="3.2" width="2.0" height="2.0" fill="#000"/><rect x="26.3" y="10.1" width="2.2" height="2.2" fill="#000"/><rect x="27.7" y="16.8" width="1.8" height="1.8" fill="#000"/><rect x="25.3" y="27.9" width="2.0" height="2.0" fill="#000"/><rect x="26.8" y="32.7" width="2.2" height="2.2" fill="#000"/><rect x="31.3" y="3.0" width="1.8" height="1.8" fill="#000"/><rect x="34.7" y="9.2" width="2.0" height="2.0" fill="#000"/><rect x="31.6" y="14.8" width="2.0" height="2.0" fill="#000"/><rect x="34.3" y="28.7" width="2.0" height="2.0" fill="#000"/><rect x="33.7" y="32.3" width="2.0" height="2.0" fill="#000"/></pattern><pattern id="dd8" width="36" height="36" patternUnits="userSpaceOnUse" patternTransform="scale(8.0000) rotate(17)"><rect x="3.4" y="3.9" width="2.2" height="2.2" fill="#000"/><rect x="3.5" y="9.1" width="1.8" height="1.8" fill="#000"/><rect x="3.5" y="16.4" width="2.0" height="2.0" fill="#000"/><rect x="4.3" y="20.6" width="1.8" height="1.8" fill="#000"/><rect x="1.2" y="26.0" width="2.0" height="2.0" fill="#000"/><rect x="1.8" y="34.1" width="2.2" height="2.2" fill="#000"/><rect x="7.8" y="13.8" width="1.8" height="1.8" fill="#000"/><rect x="9.1" y="21.6" width="2.2" height="2.2" fill="#000"/><rect x="7.9" y="28.7" width="1.8" height="1.8" fill="#000"/><rect x="8.5" y="31.8" width="1.8" height="1.8" fill="#000"/><rect x="14.4" y="4.1" width="2.2" height="2.2" fill="#000"/><rect x="15.6" y="8.4" width="2.0" height="2.0" fill="#000"/><rect x="14.9" y="14.3" width="2.2" height="2.2" fill="#000"/><rect x="16.6" y="26.5" width="2.2" height="2.2" fill="#000"/><rect x="16.0" y="32.5" width="1.8" height="1.8" fill="#000"/><rect x="20.8" y="3.7" width="1.8" height="1.8" fill="#000"/><rect x="19.6" y="8.1" width="2.0" height="2.0" fill="#000"/><rect x="20.4" y="14.5" width="2.0" height="2.0" fill="#000"/><rect x="19.6" y="21.9" width="2.0" height="2.0" fill="#000"/><rect x="19.3" y="28.6" width="2.0" height="2.0" fill="#000"/><rect x="21.0" y="32.5" width="2.0" height="2.0" fill="#000"/><rect x="28.5" y="3.2" width="2.0" height="2.0" fill="#000"/><rect x="26.3" y="10.1" width="2.2" height="2.2" fill="#000"/><rect x="27.7" y="16.8" width="1.8" height="1.8" fill="#000"/><rect x="25.3" y="27.9" width="2.0" height="2.0" fill="#000"/><rect x="26.8" y="32.7" width="2.2" height="2.2" fill="#000"/><rect x="31.3" y="3.0" width="1.8" height="1.8" fill="#000"/><rect x="34.7" y="9.2" width="2.0" height="2.0" fill="#000"/><rect x="31.6" y="14.8" width="2.0" height="2.0" fill="#000"/><rect x="34.3" y="28.7" width="2.0" height="2.0" fill="#000"/><rect x="33.7" y="32.3" width="2.0" height="2.0" fill="#000"/></pattern><pattern id="dd5" width="36" height="36" patternUnits="userSpaceOnUse" patternTransform="scale(5.1280) rotate(17)"><rect x="3.4" y="3.9" width="2.2" height="2.2" fill="#000"/><rect x="3.5" y="9.1" width="1.8" height="1.8" fill="#000"/><rect x="3.5" y="16.4" width="2.0" height="2.0" fill="#000"/><rect x="4.3" y="20.6" width="1.8" height="1.8" fill="#000"/><rect x="1.2" y="26.0" width="2.0" height="2.0" fill="#000"/><rect x="1.8" y="34.1" width="2.2" height="2.2" fill="#000"/><rect x="7.8" y="13.8" width="1.8" height="1.8" fill="#000"/><rect x="9.1" y="21.6" width="2.2" height="2.2" fill="#000"/><rect x="7.9" y="28.7" width="1.8" height="1.8" fill="#000"/><rect x="8.5" y="31.8" width="1.8" height="1.8" fill="#000"/><rect x="14.4" y="4.1" width="2.2" height="2.2" fill="#000"/><rect x="15.6" y="8.4" width="2.0" height="2.0" fill="#000"/><rect x="14.9" y="14.3" width="2.2" height="2.2" fill="#000"/><rect x="16.6" y="26.5" width="2.2" height="2.2" fill="#000"/><rect x="16.0" y="32.5" width="1.8" height="1.8" fill="#000"/><rect x="20.8" y="3.7" width="1.8" height="1.8" fill="#000"/><rect x="19.6" y="8.1" width="2.0" height="2.0" fill="#000"/><rect x="20.4" y="14.5" width="2.0" height="2.0" fill="#000"/><rect x="19.6" y="21.9" width="2.0" height="2.0" fill="#000"/><rect x="19.3" y="28.6" width="2.0" height="2.0" fill="#000"/><rect x="21.0" y="32.5" width="2.0" height="2.0" fill="#000"/><rect x="28.5" y="3.2" width="2.0" height="2.0" fill="#000"/><rect x="26.3" y="10.1" width="2.2" height="2.2" fill="#000"/><rect x="27.7" y="16.8" width="1.8" height="1.8" fill="#000"/><rect x="25.3" y="27.9" width="2.0" height="2.0" fill="#000"/><rect x="26.8" y="32.7" width="2.2" height="2.2" fill="#000"/><rect x="31.3" y="3.0" width="1.8" height="1.8" fill="#000"/><rect x="34.7" y="9.2" width="2.0" height="2.0" fill="#000"/><rect x="31.6" y="14.8" width="2.0" height="2.0" fill="#000"/><rect x="34.3" y="28.7" width="2.0" height="2.0" fill="#000"/><rect x="33.7" y="32.3" width="2.0" height="2.0" fill="#000"/></pattern>
</defs>
<g id="wm" opacity="0.999"><text x="0" y="0" transform="translate(80.7,931.7) rotate(-23.38) scale(1,1.015)" font-family="Liberation Sans, sans-serif" font-size="250" fill="#f1f1f1">HondaCarMine.ru</text></g>

<!-- bolt 17 : zoom origin (290,50) scale .15637 -->
<g transform="translate(290,50) scale(0.15637)">



<path class="w" d="M178,215 C178,185 205,180 205,175 L205,140 Q205,105 285,105 Q365,105 365,140 L365,175 C365,180 395,185 395,215 L395,240 C395,265 340,275 330,278 L330,455 Q330,470 315,470 L255,470 Q240,470 240,455 L240,278 C230,275 178,265 178,240 Z"/>
<path class="t" d="M205,150 Q285,185 365,150 M245,172 L245,222 M325,172 L325,222 M205,185 Q285,235 365,185 M178,215 Q285,270 395,215 M183,240 Q285,290 390,240"/>
<path class="t" d="M240,305 Q285,318 330,305 M240,335 Q285,348 330,335 M240,365 Q285,378 330,365 M240,395 Q285,408 330,395 M240,425 Q285,438 330,425 M240,450 Q285,462 330,450"/>
</g>
<!-- bracket 5 : zoom origin (290,130) scale .15637 -->
<g transform="translate(290,130) scale(0.15637)">

<path class="w" d="M90,520 L235,465 C255,440 262,390 275,340 L300,250 L360,180 L400,200 L480,160 L495,118 L545,115 L610,148 L622,208 L648,232 L665,295 L690,315 L745,280 L755,238 L790,230 L882,258 L888,300 L985,298 L1060,335 L1118,355 L1122,400 L935,488 L900,488 L860,465 L700,400 C640,430 620,500 600,570 C590,620 570,640 540,650 L385,715 L360,720 L330,705 L200,695 L150,660 L140,600 L95,590 Z"/>
<path class="o" d="M110,545 L250,490 C275,460 285,400 300,350 L325,290 L310,250 M300,250 L400,200 L410,225 L500,185 L520,150 L495,118"/>
<path class="o" d="M320,490 C335,380 380,260 500,238 L545,238 L640,285 M320,490 L480,565 M320,490 L150,565 L160,590"/>
<path class="o" d="M480,565 C510,560 520,520 535,470 L560,410 L550,380 L640,285 L660,295 M500,600 C540,585 550,540 565,480 L590,430 L580,395 L660,310"/>
<path class="o" d="M380,640 L500,600 M385,715 L385,660 L540,605 L560,590 M360,720 L360,655 L380,640"/>
<path class="o" d="M690,315 L700,335 L780,295 L790,250 L755,238"/>
<path class="o" d="M700,400 C740,340 820,340 850,380 L890,470 M720,370 L860,465"/>
<path class="o" d="M888,300 L925,400 L1090,335 L1060,335 M925,400 L935,420 L1118,355 M935,420 L935,488"/>
<ellipse class="o" cx="283" cy="615" rx="62" ry="28"/>
<ellipse class="t" cx="283" cy="625" rx="45" ry="15"/>
<ellipse class="t" cx="945" cy="345" rx="45" ry="25"/>
</g>

<!-- bushing 4 : zoom origin (200,260) scale .25 -->
<g transform="translate(200,260) scale(0.25)">
<!-- left flange -->
<ellipse class="w" cx="622" cy="322" rx="130" ry="176" transform="rotate(9 622 322)"/>
<ellipse class="w" cx="642" cy="324" rx="116" ry="168" transform="rotate(9 642 324)"/>
<ellipse class="dd4" cx="642" cy="324" rx="116" ry="168" transform="rotate(9 642 324)"/>
<!-- barrel -->
<path class="w" d="M655,198 C580,190 540,260 545,340 C548,420 590,470 640,468 L720,505 L800,250 Z"/>
<path class="dd4" d="M655,198 C580,190 540,260 545,340 C548,420 590,470 640,468 L700,495 L700,440 C640,440 600,400 600,330 C600,270 620,245 670,245 L770,270 L790,245 Z"/>
<!-- right flange -->
<ellipse class="w" cx="795" cy="398" rx="130" ry="172" transform="rotate(8 795 398)"/>
<ellipse class="w" cx="814" cy="400" rx="126" ry="170" transform="rotate(8 814 400)"/>
<ellipse class="dd4" cx="814" cy="400" rx="126" ry="170" transform="rotate(8 814 400)"/>
<ellipse class="w" cx="815" cy="395" rx="85" ry="106" transform="rotate(8 815 395)"/>
<path class="dd4" d="M790,300 L870,300 L870,365 L790,365 Z M745,420 L800,420 L800,470 L745,470 Z"/>
<!-- slit -->
<path class="w" d="M745,470 L808,505 L808,562 L825,558 L880,520 L893,440 L870,478 L822,500 Z" />
<path class="o" d="M808,505 L822,500 M822,500 L822,558 M760,500 L800,518 L800,562"/>
</g>

<!-- bolt 15: zoom origin (630,90) scale .15637 -->
<g id="bolt15a" transform="translate(630,90) scale(0.15637)">
<path class="w" d="M780,255 C780,225 808,215 808,205 L808,160 Q808,118 893,118 Q980,118 980,160 L980,205 C980,215 1010,225 1010,255 L1010,275 C1010,300 960,308 945,312 L945,740 L930,750 L930,790 Q930,808 895,808 Q860,808 860,790 L860,750 L845,740 L845,312 C830,308 780,300 780,275 Z"/>
<path class="t" d="M808,165 Q893,205 980,165 M850,185 L850,240 M935,185 L935,240 M808,205 Q893,260 980,205 M780,255 Q893,310 1010,255 M790,285 Q893,330 1000,285"/>
<path class="t" d="M845,500 Q893,485 945,500 M845,530 Q893,545 945,530 M845,565 Q893,580 945,565 M845,600 Q893,615 945,600 M845,635 Q893,650 945,635 M845,670 Q893,685 945,670 M845,705 Q893,720 945,705 M845,740 Q893,755 945,740 M870,330 L870,480 M920,330 L920,480"/>
</g>
<use href="#bolt15a" x="0" y="0" transform="translate(-49.800,206.500)"/>

<!-- bracket in box 1: zoom origin (630,215) scale .15637 -->
<g transform="translate(630,215) scale(0.15637)">
<!-- left eyelet -->
<path class="w" style="stroke-width:2.4" d="M160,400 C165,340 260,325 330,325 C400,325 440,345 470,365 L500,370 L440,440 L470,495 C420,520 350,525 280,515 C200,500 155,460 158,430 Z"/>
<path class="t" d="M160,405 C200,470 380,480 440,440 M210,420 C250,370 400,370 440,420"/>
<ellipse class="t" cx="330" cy="438" rx="56" ry="25"/>
<!-- right eyelet -->
<path class="w" style="stroke-width:2.4" d="M645,285 C660,220 800,198 880,200 C980,200 1090,235 1095,300 L1095,335 C1080,400 950,430 860,425 C800,420 700,380 620,345 L600,350 L470,495 L440,440 L580,292 L620,285 Z"/>
<path class="t" d="M690,300 C780,250 980,250 1060,320 L1095,300 M620,285 L800,365 C880,385 1000,370 1060,320 M470,495 L520,480 L640,370"/>
<ellipse class="t" cx="888" cy="345" rx="58" ry="27"/>
</g>
<!-- bracket in box 2: zoom origin (650,410) scale .15637 -->
<g transform="translate(650,410) scale(0.15637)">
<path class="w" d="M248,360 L335,385 L340,355 C360,320 440,315 490,315 L545,300 L560,285 L560,200 L970,350 L970,440 C930,520 850,585 775,585 L750,575 L248,450 Z" style="stroke-width:2.2"/>
<path class="t" d="M248,360 L750,490 L750,575 M560,285 L970,440 M690,345 L560,440 M790,375 L665,470 M750,490 C760,470 765,465 770,470"/>
<ellipse class="t" cx="812" cy="483" rx="52" ry="28"/>
<ellipse class="t" cx="447" cy="390" rx="48" ry="25"/>
</g>

<!-- cover 7 bottom: zoom origin (830,290) scale .15637 -->
<g transform="translate(830,290) scale(0.15637)">
<path class="w" d="M360,-60 L340,20 L340,60 L355,90 L275,365 L200,400 L150,500 L160,540 L225,550 L245,505 L320,570 L320,660 L700,800 L790,795 L830,700 L1060,270 L1000,100 Z"/>
<path class="dn6" d="M200,400 L290,375 L400,450 L800,690 L830,700 L790,795 L700,800 L320,660 L320,570 L245,505 L190,430 Z"/>
<path class="dn6" d="M590,230 L960,400 L880,400 L780,600 L480,510 Z"/>
<path class="o" d="M200,400 L290,375 L400,450 M275,365 L290,375 L400,140 M320,570 L345,590 L800,690 L830,700 M800,690 L780,600 L480,510 M780,600 L880,400 L960,400 L590,230 M880,400 L800,690 M940,410 L820,680 M345,590 L320,660 M190,440 L245,505"/>
<path class="w" d="M520,100 L560,95 L590,210 L470,510 L420,540 L390,520 Z"/>
<path class="o" d="M545,100 L420,530"/>
</g>
<!-- cover 7 top: zoom origin (840,210) scale .15637 -->
<g transform="translate(840,210) scale(0.15637)">
<!-- second tier -->
<path class="w" d="M328,375 L245,520 C240,560 260,590 290,612 C420,560 650,700 880,930 L940,900 L985,785 C900,660 770,520 600,420 C510,365 410,350 345,372 Z"/>
<path class="dn6" d="M328,375 L245,520 C240,560 260,590 290,612 C420,560 650,700 880,930 L940,900 L985,785 C900,660 770,520 600,420 C510,365 410,350 345,372 Z"/>
<path class="w" d="M268,520 C360,480 620,620 900,905 L880,930 C650,700 420,560 290,612 C260,590 255,550 268,520 Z" style="stroke-width:2.2"/>
<path class="dn6" d="M268,520 C300,505 340,510 400,530 L380,580 C340,585 310,600 290,612 C260,590 255,550 268,520 Z"/>
<path d="M520,430 C650,500 790,630 880,760 L840,840 C740,720 620,610 480,530 Z" style="fill:#fff;stroke:none"/>
<!-- groove area -->
<path d="M328,305 C400,285 520,290 620,345 C800,465 960,610 1040,752 L985,785 C900,660 770,520 600,420 C510,365 410,350 328,378 Z" style="fill:#fff;stroke:none"/>
<path class="o" d="M340,342 C410,318 520,330 610,385 C790,490 930,640 1010,765 M345,372 C410,350 510,365 600,420 C770,520 900,660 985,785 M1040,752 L985,785 M328,305 L328,378"/>
<!-- flange -->
<path class="w" d="M330,130 Q335,100 380,100 C480,100 620,150 770,240 C950,350 1150,500 1235,660 L1230,700 L1040,752 C960,610 800,465 620,345 C520,290 400,285 328,310 Z"/>
<path class="dn6" d="M330,130 Q335,100 380,100 C480,100 560,130 640,170 L600,260 L560,300 C480,285 400,285 332,308 Z"/>
<path class="dn6" d="M900,360 C1050,450 1180,560 1235,660 L1230,700 L1040,752 C1000,680 950,610 880,540 Z"/>
</g>

<!-- rack tube in real coords -->
<g id="rack">
<!-- main tube body (white fill) -->
<path d="M299.500,460.800 L646,611 L640,671 L270.600,511.600 Z" style="fill:#fff;stroke:none"/>
<path class="o" d="M299.500,460.800 L646,611"/>
<path class="o" d="M270.600,511.600 L640,671.500" stroke-width="2.6"/>
</g>
<!-- left end: zoom origin (140,410) scale .15637 -->
<g transform="translate(140,410) scale(0.15637)">
<!-- boss -->
<path d="M720,172 L790,180 L1020,325 L835,682 L800,685 L600,590 L560,520 L560,300 Z" fill="#fff" stroke="none"/>
<path class="o" d="M1020,325 L990,282 L790,180 L720,172 C620,200 535,330 552,520 C556,555 575,580 600,590 L800,685 L835,682"/>
<path class="o" d="M745,178 C650,215 568,340 580,520 C584,555 595,580 612,595"/>
<path class="o" d="M900,262 C800,290 715,400 715,520 C715,600 760,680 830,685 M985,300 C860,305 770,420 770,520 C770,590 800,640 850,657"/>
<!-- collar -->
<path class="w" d="M720,172 L640,183 L600,190 C500,245 455,350 478,440 L520,510 L548,562 C530,420 580,250 720,172 Z"/>
<path class="o" d="M590,215 L640,195 L640,183 M478,440 L520,448 L520,510"/>
<!-- shaft + tip -->
<path class="w" d="M560,205 L410,135 L350,138 L325,150 L290,120 L200,105 L108,140 L108,245 L210,300 L270,320 L290,345 L478,425 C465,340 500,250 560,205 Z"/>
<path class="o" d="M108,190 L150,190 L150,202 L108,202 M150,165 L150,262 M205,160 L205,300 M185,172 L185,288 M150,160 L200,130 L215,190 L285,225 L325,150"/>
</g>

<!-- cylinder end: zoom origin (520,560) scale .15637 -->
<g transform="translate(520,560) scale(0.15637)">
<path d="M830,330 L860,318 L920,325 L1020,370 L1060,400 L1075,430 L1279,520 L1400,600 L1279,700 L1110,830 L1060,835 L790,725 L700,660 Z" style="fill:#fff;stroke:none"/>
<path class="o" d="M850,322 C760,380 660,500 680,620 C685,650 700,670 740,700"/>
<path class="o" d="M905,335 C800,420 730,520 742,640 C746,680 765,705 790,725"/>
<path class="o" d="M930,345 C830,440 765,540 778,650 C782,690 795,710 810,725"/>
<path class="o" d="M830,330 L860,318 L920,325 L1020,370 L1060,400 L1075,430 L1279,520 L1340,545"/>
<path class="o" d="M1000,400 C900,420 820,500 810,570 L1165,720 L1260,620 M1165,720 L1150,790"/>
<path class="o" d="M785,630 L1140,790 M800,690 C810,730 870,760 920,770 L1060,830 M905,720 L1120,815"/>
<ellipse class="w" cx="1025" cy="460" rx="55" ry="30"/>
<path class="t" d="M975,470 Q1025,500 1078,468"/>
<ellipse class="w" cx="1200" cy="520" rx="92" ry="33" transform="rotate(20 1200 520)"/>
<path class="t" d="M1115,505 Q1190,560 1285,565"/>
</g>

<!-- tower top: zoom origin (720,400) scale .15637 -->
<g transform="translate(720,400) scale(0.15637)">
<path style="fill:#fff;stroke:none" d="M670,630 L520,959 L945,959 L1025,800 L1040,660 L1000,585 L985,570 L1100,310 L1120,245 L1135,215 L1160,150 L1155,95 Q1060,45 1005,100 L990,190 L975,215 L955,280 L835,510 L760,525 L720,545 L700,600 Z"/>
<path class="o" d="M670,630 L700,600 L720,545 L760,525 L835,510 L955,280 L975,215 L990,190 L1005,100 Q1060,45 1155,95 L1160,150 L1135,215 L1120,245 L1100,310 L985,570 L1000,585 L1040,660 L1025,800"/>
<path class="o" d="M1005,100 Q1070,130 1155,100 M990,190 Q1060,225 1135,215 M975,215 Q1050,250 1120,245 M955,280 Q1030,320 1100,310"/>
<path class="t" d="M1020,135 L1008,190 M1045,145 L1035,200 M1070,150 L1060,208 M1095,150 L1085,212 M1120,145 L1110,212 M1140,135 L1128,208 M1000,240 L985,290 M1025,250 L1010,300 M1050,255 L1037,308 M1075,258 L1062,312 M1100,255 L1085,312"/>
<path class="o" d="M835,510 C880,560 940,580 1000,585 M820,530 C850,590 950,620 1000,625 M745,560 C800,620 950,680 1030,690 M720,545 C780,630 940,700 1040,700 M700,600 C780,690 940,755 1025,765 M670,630 C760,720 930,790 1025,800"/>
</g>
<!-- tower bottom: zoom origin (720,500) scale .15637 -->
<g transform="translate(720,500) scale(0.15637)">
<path d="M598,170 L470,470 L400,700 L700,760 L845,565 L940,300 L1022,170 Z" style="fill:#fff;stroke:none"/>
<path class="o" d="M670,-10 L470,470 M1025,160 L940,300 L845,565"/>
<path class="w" d="M295,375 L465,465 C472,520 450,580 410,640 L380,690 L255,720 L160,660 L210,540 C215,440 250,385 295,375 Z"/>
<path class="o" d="M215,540 L400,635"/>
<path class="w" d="M1030,160 L1045,185 L1010,260 L935,290 L915,270 L960,170 Z"/>
<path class="o" d="M985,180 L940,275"/>
</g>

<!-- housing lower: zoom origin (660,600) scale .25 -->
<g transform="translate(660,600) scale(0.25)">
<!-- body behind: valve cylinder + top flange -->
<path class="w" d="M340,300 L412,215 C440,250 560,262 645,255 L780,265 C810,280 825,320 830,360 L700,420 L600,470 L385,528 L300,480 L300,400 Z"/>
<path class="o" d="M412,215 L412,430 C420,455 470,465 500,450 L600,360 M515,262 L515,425 M645,258 L645,320 M595,325 L640,318 L640,352 L600,365 Z"/>
<path class="o" d="M340,310 L340,400 L300,470 M365,290 L365,410 L330,480 M300,400 L230,470"/>
<path class="t" d="M255,350 L305,365 M245,375 L295,390 M235,400 L285,415 M250,430 L275,440"/>
<!-- arm + mount boss -->
<path class="w" d="M328,515 L385,528 L630,435 L660,480 L700,590 L640,600 L380,685 L335,718 C270,770 135,760 118,715 L118,520 Z"/>
<path class="o" d="M380,562 L615,478 M340,580 L340,705 M380,560 L380,685"/>
<ellipse class="w" cx="228" cy="527" rx="101" ry="47"/>
<ellipse class="w" cx="228" cy="513" rx="100" ry="45"/>
<ellipse class="dd4" cx="228" cy="513" rx="100" ry="45"/>
<ellipse class="w" cx="228" cy="508" rx="64" ry="28" style="stroke-width:2.4"/>
<ellipse class="t" cx="228" cy="508" rx="42" ry="17"/>
<ellipse class="t" cx="228" cy="510" rx="22" ry="6"/>
<!-- pinion boot ring -->
<ellipse class="w" cx="715" cy="460" rx="100" ry="142" transform="rotate(12 715 460)"/>
<ellipse class="o" cx="728" cy="464" rx="96" ry="138" transform="rotate(12 728 464)"/>
<ellipse class="w" cx="745" cy="470" rx="92" ry="134" transform="rotate(12 745 470)"/>
<ellipse class="w" cx="797" cy="502" rx="92" ry="138" transform="rotate(12 797 502)"/>
<ellipse class="w" cx="803" cy="505" rx="72" ry="115" transform="rotate(12 803 505)"/>
<!-- shaft -->
<path class="w" d="M770,455 L800,430 L900,480 L935,500 L1000,520 L1075,555 L1080,600 L1060,640 L1010,658 L920,622 L740,560 Z"/>
<path class="o" d="M760,450 L800,470 L790,500 L840,510 L815,560 L760,545 Z M900,520 L940,495 L1010,522 L965,548 Z M935,555 L925,615 M965,565 L960,632 M1000,575 L1040,560 L1075,575 M1000,575 L985,620 L1010,650 M1040,600 L1020,640 M1030,590 L1065,610"/>
</g>

<!-- hoses: double stroke technique, real coords -->
<g id="hoses" fill="none" stroke-linecap="butt" stroke-linejoin="round">
<path id="h1" d="M435.700,506.900 L446,511.600 C455,516 455.500,520 451,528 L434,569 C428,584 432,590 446,596.500 L620,671.500 L683,698.500 C693,701.500 695,697 698.100,691.900 L713.100,671.900 L745,634.400 C760,618 775,612 815,611" stroke="#000" stroke-width="15"/>
<path d="M435.700,506.900 L446,511.600 C455,516 455.500,520 451,528 L434,569 C428,584 432,590 446,596.500 L620,671.500 L683,698.500 C693,701.500 695,697 698.100,691.900 L713.100,671.900 L745,634.400 C760,618 775,612 815,611" stroke="#fff" stroke-width="9.5"/>
<path d="M450,590 L638,671" stroke="#000" stroke-width="4"/>
<path id="h2" d="M546,597 C542,605 540.500,610 540.500,618 L540.500,645 C541,658 546,662 557,666.500 L672,714.700 C684,719.500 692,718 698,712 L703.100,707.500 L729.400,671.900 L751.900,650 C760.600,643.750 770,641.250 780,640 L797,640" stroke="#000" stroke-width="16"/>
<path d="M546,597 C542,605 540.500,610 540.500,618 L540.500,645 C541,658 546,662 557,666.500 L672,714.700 C684,719.500 692,718 698,712 L703.100,707.500 L729.400,671.900 L751.900,650 C760.600,643.750 770,641.250 780,640 L797,640" stroke="#fff" stroke-width="10.5"/>
</g>
<!-- fitting 1: zoom origin (370,460) scale .09382 -->
<g transform="translate(370,460) scale(0.09382)">
<path class="w" d="M130,300 L170,230 L320,185 L570,285 L620,340 L740,395 L760,450 L700,480 L640,590 L500,570 L460,570 L400,610 L290,610 L215,570 L215,515 L130,480 Z"/>
<path class="o" d="M170,305 L230,245 L320,212 M230,245 L430,340 L530,305 M170,305 L390,400 L430,340 M390,400 L390,590 M215,515 L390,590 L460,570 M240,545 L300,590 L370,595"/>
<path class="o" d="M520,345 C450,370 425,460 480,545 M575,362 C505,400 490,490 535,565 M600,385 L570,510 M650,400 L600,385 M690,440 C620,455 600,530 645,595 M720,450 C660,470 640,520 660,560"/>
<path class="o" d="M690,622 L790,665"/>
</g>
<!-- fitting 2: zoom origin (520,540) scale .09382 -->
<g transform="translate(520,540) scale(0.09382)">
<path class="w" d="M320,290 L470,105 L650,135 L690,200 L690,385 L560,565 L470,555 L420,670 L360,700 L330,700 L200,600 L200,560 L240,470 L320,420 Z"/>
<path class="o" d="M320,290 L520,320 L550,380 L550,560 M520,320 L640,170 M550,380 L690,210 M345,390 C410,340 480,370 490,440 M340,440 C400,400 450,430 460,490 M320,490 C380,460 430,490 440,560 M240,540 C300,480 400,540 390,640 M225,590 C290,540 370,590 350,680"/>
</g>

<!-- valve port block + fittings: zoom origin (770,570) scale .10946 -->
<g transform="translate(770,570) scale(0.10946)">
<path class="w" d="M520,265 C560,200 650,170 720,170 L780,165 L880,210 L1035,275 C1065,320 1060,400 1040,440 C1020,520 950,580 880,600 L860,660 C850,740 800,820 740,860 C700,880 650,850 620,800 L615,600 L480,520 Z"/>
<path class="o" d="M710,205 L860,265 L880,210 M780,165 L790,215 M860,265 L820,330"/>
<!-- bolts -->
<ellipse class="w" cx="930" cy="430" rx="95" ry="128" transform="rotate(22 930 430)"/>
<ellipse class="o" cx="930" cy="430" rx="65" ry="92" transform="rotate(22 930 430)"/>
<ellipse class="o" cx="930" cy="430" rx="38" ry="55" transform="rotate(22 930 430)"/>
<path class="t" d="M915,410 L945,450 M950,410 L912,452"/>
<ellipse class="w" cx="745" cy="690" rx="95" ry="128" transform="rotate(22 745 690)"/>
<ellipse class="o" cx="745" cy="690" rx="65" ry="92" transform="rotate(22 745 690)"/>
<ellipse class="o" cx="745" cy="690" rx="38" ry="55" transform="rotate(22 745 690)"/>
<path class="t" d="M730,670 L760,710 M765,670 L727,712"/>
<!-- upper fitting -->
<path class="w" d="M640,262 L800,290 L800,520 L640,500 C600,480 600,300 640,262 Z"/>
<path class="o" d="M690,400 L800,400 M680,290 C720,330 720,470 690,510"/>
<path class="w" d="M560,290 C600,300 640,340 640,395 C640,450 600,500 560,515 C520,500 520,300 560,290 Z"/>
<path class="o" d="M575,320 C610,350 610,450 575,475"/>
<path class="w" d="M450,320 L560,320 L560,470 L450,470 Z"/>
<path class="o" d="M480,320 L480,470 M545,330 L545,465"/>
<path class="w" d="M380,325 C430,330 450,360 450,395 C450,440 430,465 400,470 L380,470 Z"/>
<!-- lower fitting -->
<path class="w" d="M470,510 L620,560 L620,760 L470,770 C430,740 430,550 470,510 Z"/>
<path class="o" d="M520,660 L620,660 M505,540 C545,580 545,730 515,770"/>
<path class="w" d="M380,525 C420,535 460,570 460,635 C460,700 420,745 380,760 C340,740 340,540 380,525 Z"/>
<path class="o" d="M395,560 C430,590 430,690 395,720"/>
<path class="w" d="M280,575 L385,575 L385,730 L280,725 Z"/>
<path class="o" d="M305,578 L305,728 M370,580 L370,726"/>
<path class="w" d="M200,570 C250,580 275,610 275,650 C275,690 250,720 215,730 L195,728 Z"/>
</g>

<!-- band 6: zoom origin (1130,370) scale .09382 -->
<g transform="translate(1130,370) scale(0.09382)">
<path class="o" d="M730,180 C900,200 1020,350 1015,560 C1010,760 900,950 760,1060 C680,1110 560,1125 440,1060"/>
<path class="o" d="M790,220 C870,300 895,400 880,520 C865,680 780,840 690,930 C620,1000 520,1045 440,1040"/>
<path class="w" d="M730,180 L600,160 L480,210 L320,380 L460,450 L520,380 L680,250 L790,220 Z"/>
<path class="o" d="M380,370 L430,320 L480,340 L440,400 M520,280 L560,250 M590,230 L640,205" style="stroke-width:3.5"/>
<path class="w" d="M340,455 L405,480 L375,555 L410,580 L370,760 L345,765 L320,880 L370,900 L440,1050 L420,1070 L290,1000 L230,895 L195,875 L190,705 L255,530 L310,520 Z"/>
<path class="o" d="M270,570 L370,590 M280,610 L275,680 L330,700 L345,630 M230,720 L350,760 M230,750 L240,860 M270,770 L275,875 M300,775 L300,880 M240,860 L320,890"/>
</g>

<!-- boot 8/9: zoom origin (1220,400) scale .195 -->
<g transform="translate(1220,400) scale(0.195)">
<mask id="bootmask" maskUnits="userSpaceOnUse" x="0" y="0" width="1300" height="960"><rect x="0" y="0" width="1300" height="960" fill="#fff"/><path d="M215,300 L1100,660 L1150,560 L262,195 Z" fill="#000"/></mask>
<ellipse class="w" cx="206" cy="328" rx="129" ry="235" transform="rotate(17 206 328)"/><g mask="url(#bootmask)"><ellipse class="dd5" cx="206" cy="328" rx="129" ry="235" transform="rotate(17 206 328)"/></g>
<ellipse class="w" cx="228" cy="336" rx="128" ry="232" transform="rotate(17 228 336)"/>
<ellipse class="w" cx="248" cy="344" rx="124" ry="226" transform="rotate(17 248 344)"/>
<ellipse class="w" cx="291" cy="362" rx="124" ry="226" transform="rotate(17 291 362)"/><g mask="url(#bootmask)"><ellipse class="dd5" cx="291" cy="362" rx="124" ry="226" transform="rotate(17 291 362)"/></g>
<ellipse class="w" cx="318" cy="373" rx="127" ry="230" transform="rotate(17 318 373)"/>
<ellipse class="w" cx="351" cy="386" rx="129" ry="235" transform="rotate(17 351 386)"/><g mask="url(#bootmask)"><ellipse class="dd5" cx="351" cy="386" rx="129" ry="235" transform="rotate(17 351 386)"/></g>
<ellipse class="w" cx="412" cy="411" rx="135" ry="245" transform="rotate(17 412 411)"/><g mask="url(#bootmask)"><ellipse class="dd5" cx="412" cy="411" rx="135" ry="245" transform="rotate(17 412 411)"/></g>
<ellipse class="w" cx="484" cy="440" rx="136" ry="248" transform="rotate(17 484 440)"/><g mask="url(#bootmask)"><ellipse class="dd5" cx="484" cy="440" rx="136" ry="248" transform="rotate(17 484 440)"/></g>
<ellipse class="w" cx="565" cy="473" rx="138" ry="250" transform="rotate(17 565 473)"/><g mask="url(#bootmask)"><ellipse class="dd5" cx="565" cy="473" rx="138" ry="250" transform="rotate(17 565 473)"/></g>
<ellipse class="w" cx="660" cy="511" rx="138" ry="250" transform="rotate(17 660 511)"/><g mask="url(#bootmask)"><ellipse class="dd5" cx="660" cy="511" rx="138" ry="250" transform="rotate(17 660 511)"/></g>
<ellipse class="w" cx="747" cy="546" rx="135" ry="245" transform="rotate(17 747 546)"/><g mask="url(#bootmask)"><ellipse class="dd5" cx="747" cy="546" rx="135" ry="245" transform="rotate(17 747 546)"/></g>
<ellipse class="w" cx="834" cy="581" rx="132" ry="240" transform="rotate(17 834 581)"/><g mask="url(#bootmask)"><ellipse class="dd5" cx="834" cy="581" rx="132" ry="240" transform="rotate(17 834 581)"/></g>
<ellipse class="w" cx="907" cy="611" rx="125" ry="228" transform="rotate(17 907 611)"/><g mask="url(#bootmask)"><ellipse class="dd5" cx="907" cy="611" rx="125" ry="228" transform="rotate(17 907 611)"/></g>
<ellipse class="w" cx="976" cy="639" rx="116" ry="210" transform="rotate(17 976 639)"/><g mask="url(#bootmask)"><ellipse class="dd5" cx="976" cy="639" rx="116" ry="210" transform="rotate(17 976 639)"/></g>
<ellipse class="w" cx="1041" cy="665" rx="102" ry="185" transform="rotate(17 1041 665)"/><g mask="url(#bootmask)"><ellipse class="dd5" cx="1041" cy="665" rx="102" ry="185" transform="rotate(17 1041 665)"/></g>
<ellipse class="w" cx="1068" cy="675" rx="77" ry="128" transform="rotate(17 1068 675)"/><g mask="url(#bootmask)"><ellipse class="dd5" cx="1068" cy="675" rx="77" ry="128" transform="rotate(17 1068 675)"/></g>
<ellipse class="w" cx="1074" cy="678" rx="60" ry="100" transform="rotate(17 1074 678)"/>
<ellipse class="w" cx="1095" cy="687" rx="51" ry="85" transform="rotate(17 1095 687)"/>
<ellipse class="w" cx="1113" cy="694" rx="45" ry="75" transform="rotate(17 1113 694)"/>
<path class="w" d="M1120,640 L1175,648 L1200,790 L1120,780 Z" style="stroke:none"/>
<ellipse class="w" cx="1165" cy="715" rx="52" ry="76" transform="rotate(17 1165 715)"/>
<ellipse class="dd5" cx="1165" cy="715" rx="52" ry="76" transform="rotate(17 1165 715)"/>
<ellipse class="w" cx="1168" cy="716" rx="30" ry="50" transform="rotate(17 1168 716)"/>
</g>

<!-- clip 3: zoom origin (1440,510) scale .07819 -->
<g transform="translate(1440,510) scale(0.07819)">
<path class="w" d="M490,260 L660,310 L770,375 L750,450 L700,470 L640,420 L520,400 L490,400 Z" style="stroke-width:2.8"/>
<ellipse class="w" cx="582" cy="600" rx="212" ry="200" style="stroke-width:3"/>
<path class="o" d="M520,300 L520,400 M540,350 L610,370 L600,440 L540,460 L490,440 M620,300 L640,700 M660,380 L720,400 M440,520 L440,680 L520,560 Z M520,560 L520,720 L640,560 M660,560 L640,720 L740,600 Z M560,480 L480,480" style="stroke-width:2.2"/>
</g>

<!-- 11 and 10: zoom origin (1020,500) scale .1251 -->
<g transform="translate(1020,500) scale(0.1251)">
<ellipse class="w" cx="303" cy="400" rx="125" ry="158" transform="rotate(14 303 400)" style="stroke-width:3.2"/>
<ellipse class="o" cx="306" cy="400" rx="102" ry="136" transform="rotate(14 306 400)" style="stroke-width:2"/>
<ellipse class="o" cx="300" cy="398" rx="62" ry="102" transform="rotate(16 300 398)" style="stroke-width:3"/>
<ellipse class="w" cx="665" cy="550" rx="152" ry="196" transform="rotate(12 665 550)" style="stroke-width:3.2"/>
<ellipse class="o" cx="672" cy="550" rx="132" ry="178" transform="rotate(12 672 550)" style="stroke-width:2"/>
<path class="o" d="M640,500 L690,470 L770,460 L760,500 L740,510 L745,550 L770,560 L760,590 L700,600 L680,630 L640,650 L590,650 L600,620 L610,590 L590,560 L600,530 Z" style="stroke-width:3.2"/>
<path class="o" d="M700,590 L720,570 M620,430 L720,395 M620,700 L730,665"/>
</g>

<!-- inner tie rod 2: zoom origin (1120,560) scale .20328 -->
<g transform="translate(1120,560) scale(0.20328)">
<!-- end thread right -->
<path class="w" d="M1060,500 L1110,500 L1230,555 C1245,575 1240,615 1215,635 L1100,590 L1060,590 Z"/>
<path class="o" d="M1110,500 C1085,530 1085,570 1100,590 M1140,515 C1120,545 1120,580 1135,605 M1165,525 C1145,555 1145,590 1160,615 M1190,538 C1170,565 1170,600 1185,622 M1215,550 C1195,575 1195,610 1210,632" style="stroke-width:2.2"/>
<!-- spline 2 -->
<path class="w" d="M930,430 L1090,490 L1110,500 C1085,530 1085,570 1100,590 L1060,590 L900,515 Z"/>
<path class="o" d="M925,455 L1085,515 M915,480 L1078,545 M905,500 L1070,568 M1060,500 C1040,530 1040,565 1055,590" style="stroke-width:2.2"/>
<!-- ring -->
<path class="w" d="M870,385 L905,395 C940,410 935,440 925,470 L900,530 L860,525 L830,500 C820,460 840,400 870,385 Z"/>
<path class="o" d="M890,395 C860,430 855,490 875,525"/>
<!-- spline 1 -->
<path class="w" d="M690,315 L735,310 L870,385 C840,400 820,460 835,505 L665,440 C645,400 660,340 690,315 Z"/>
<path class="o" d="M735,312 C705,350 705,420 725,462 M745,340 L855,395 M738,368 L845,418 M733,396 L838,445 M730,425 L832,472 M690,315 C665,350 660,410 675,445" style="stroke-width:2.2"/>
<!-- collar -->
<path class="w" d="M560,268 L625,268 L690,315 C665,350 660,410 675,445 L600,415 L545,385 C530,340 540,290 560,268 Z"/>
<path class="o" d="M590,270 C565,300 560,360 580,400 M625,270 C600,300 590,360 605,415 M605,300 L680,330"/>
<!-- rod -->
<path class="w" d="M470,250 L560,268 C540,290 535,330 545,350 L455,310 Z"/>
<!-- socket housing -->
<path class="w" d="M335,80 L480,150 C520,190 525,260 505,320 C490,360 460,380 440,372 L380,382 L245,320 L260,200 Z"/>
<path class="o" d="M345,100 C310,180 315,300 380,382 M480,150 C430,160 395,230 400,300 C405,350 420,370 440,372 M490,195 C450,200 425,250 430,300 C432,330 445,340 460,338"/>
<path class="w" d="M450,262 C445,280 450,300 458,312 L475,300 L475,255 Z" style="stroke-width:2"/>
<!-- hex -->
<path class="w" d="M215,125 L250,105 L335,80 L345,100 C320,160 318,260 340,330 L265,300 L245,320 L195,280 L200,200 Z"/>
<path class="o" d="M215,125 L270,180 L265,300 M270,180 L340,110 M200,200 L265,225 M250,105 L300,150"/>
<!-- stud left -->
<path class="w" d="M70,125 C65,100 90,85 115,90 L215,125 L200,200 L100,165 C80,155 70,140 70,125 Z"/>
<path class="o" d="M110,92 C95,115 95,145 105,165 M140,100 C125,125 125,155 135,177 M170,110 C155,135 155,165 165,188 M195,120 C182,145 182,175 192,197" style="stroke-width:2.2"/>
</g>

<!-- nut 16 + tie rod end arm: zoom origin (1370,660) scale .15637 -->
<g transform="translate(1370,660) scale(0.15637)">
<path class="w" d="M85,240 L110,160 L180,108 L280,140 L310,190 L300,270 L240,335 L175,335 L110,300 Z"/>
<path class="o" d="M110,160 L195,185 M95,245 L180,272 L175,335"/>
<ellipse class="w" cx="243" cy="236" rx="62" ry="96" transform="rotate(14 243 236)"/>
<ellipse class="o" cx="232" cy="236" rx="36" ry="62" transform="rotate(16 232 236)"/>
<path class="t" d="M215,250 L250,200 M222,275 L255,228"/>
<!-- arm -->
<path class="w" d="M400,255 L490,228 L655,300 C720,310 790,340 820,400 L925,650 C940,680 980,700 1020,715 L1309,842 L1379,847 L1479,887 L1540,1000 L1519,1067 L1259,1022 L959,902 L830,850 C800,830 780,800 770,780 L670,550 C660,525 650,520 640,518 L580,500 L400,425 L370,340 Z"/>
<path class="o" d="M395,282 L600,365 M385,352 L570,432 M655,300 C590,330 555,420 582,495"/>
</g>
<!-- ball joint: zoom origin (1520,740) scale .15637 -->
<g transform="translate(1520,740) scale(0.15637)">
<!-- housing -->
<path class="w" d="M520,375 L600,380 L820,375 C890,390 920,430 915,480 L890,520 L890,590 C820,660 600,650 560,570 L575,530 L575,480 L520,470 L500,460 L400,390 L395,345 L420,335 Z"/>
<path class="o" d="M575,530 C620,580 800,580 890,520 M520,375 L510,465 M600,400 L605,450 C640,500 830,500 850,440 L850,395 M575,480 C580,440 590,410 600,400 M620,400 C640,450 820,450 840,400"/>
<ellipse class="o" cx="610" cy="585" rx="45" ry="20" transform="rotate(20 610 585)"/>
<!-- stud -->
<path class="w" d="M675,100 Q730,65 790,100 L790,265 L810,265 L815,385 C790,430 680,430 650,390 L655,265 L675,265 Z"/>
<path class="o" d="M675,105 Q730,135 790,105 M675,200 Q730,225 790,200 M675,218 Q730,243 790,218 M655,265 Q730,300 810,265 M672,245 Q730,270 792,245"/>
<ellipse class="o" cx="766" cy="165" rx="18" ry="24"/>
</g>
<!-- pin 19, nut 18: zoom origin (1580,600) scale .1251 -->
<g transform="translate(1580,600) scale(0.1251)">
<path class="w" d="M285,140 L300,115 L345,115 L600,205 C655,215 665,260 620,285 L550,290 L500,255 L290,160 Z" style="stroke-width:3"/>
<path class="o" d="M340,140 L565,240 M560,250 C570,230 610,230 615,255"/>
<path class="w" d="M297,440 C297,395 360,368 437,368 C515,368 577,395 577,440 L577,540 L510,590 L440,605 L370,590 L297,545 Z" style="stroke-width:3.2"/>
<path class="o" d="M297,440 C297,480 360,512 437,512 C515,512 577,480 577,440 M370,505 L370,590 M510,505 L510,590"/>
<ellipse class="o" cx="437" cy="435" rx="90" ry="40"/>
<ellipse class="o" cx="437" cy="442" rx="58" ry="20"/>
</g>
<!-- boot 1: zoom origin (1580,680) scale .1251 -->
<g transform="translate(1580,680) scale(0.1251)">
<path class="w" d="M258,290 L215,320 L210,400 C250,470 350,495 437,495 C530,495 630,470 660,400 L655,320 L615,290 Z" style="stroke-width:3.2"/>
<path class="o" d="M230,350 C260,420 350,450 437,450 C530,450 610,430 640,350"/>
<path class="w" d="M312,120 L300,150 L262,200 L258,330 C300,400 570,400 615,330 L612,200 L575,150 L560,120 Z" style="stroke-width:3.2"/>

<path d="M262,265 L258,330 C300,400 570,400 615,330 L612,265 C530,295 350,295 262,265 Z" style="stroke:none;fill:#fff"/><rect x="296" y="330" width="15" height="15" fill="#000"/><rect x="331" y="299" width="15" height="15" fill="#000"/><rect x="276" y="349" width="15" height="15" fill="#000"/><rect x="365" y="326" width="15" height="15" fill="#000"/><rect x="332" y="351" width="15" height="15" fill="#000"/><rect x="302" y="297" width="15" height="15" fill="#000"/><rect x="303" y="357" width="15" height="15" fill="#000"/><rect x="331" y="325" width="15" height="15" fill="#000"/><rect x="358" y="353" width="15" height="15" fill="#000"/><rect x="581" y="333" width="15" height="15" fill="#000"/><rect x="501" y="343" width="15" height="15" fill="#000"/><rect x="515" y="314" width="15" height="15" fill="#000"/><rect x="537" y="356" width="15" height="15" fill="#000"/><rect x="555" y="317" width="15" height="15" fill="#000"/><rect x="574" y="295" width="15" height="15" fill="#000"/><rect x="567" y="356" width="15" height="15" fill="#000"/><rect x="297" y="245" width="15" height="15" fill="#000"/><rect x="302" y="212" width="15" height="15" fill="#000"/><rect x="582" y="219" width="15" height="15" fill="#000"/><rect x="574" y="244" width="15" height="15" fill="#000"/>
<path class="o" d="M262,260 C350,292 530,292 612,260 M335,150 C380,192 500,192 545,150"/>
<ellipse class="w" cx="437" cy="100" rx="125" ry="60" style="stroke-width:3.4"/>
<ellipse class="o" cx="437" cy="100" rx="78" ry="30"/>
<ellipse class="o" cx="437" cy="104" rx="50" ry="15"/>
</g>

<!-- FR arrow: zoom origin (0,719) scale .25 -->
<g transform="translate(0,719) scale(0.25)" opacity="0.999">
<path d="M72,822 L111,705 L128,733 L283,661 L323,752 L172,825 L183,861 Z" fill="#000"/>
<text x="0" y="0" transform="translate(334,743) rotate(-23) scale(0.92,1)" font-family="Liberation Sans, sans-serif" font-weight="bold" font-size="130" fill="#000" stroke="#000" stroke-width="6" style="vector-effect:none">FR</text>
<circle cx="506" cy="643" r="18" fill="#000"/>
</g>

<g id="leaders" class="l">
<path d="M262.800,101.400 L327,101.400" style="stroke-width:2.8"/>
<path d="M335,129 L335,226" style="stroke-width:1.8"/>
<path d="M335,153 L437,112 L437,184" style="stroke-width:1.8"/>
<path d="M251,219.400 L304,219.400" style="stroke-width:2.8"/>
<path d="M265,336 L324,336"/>
<path d="M350,549 L350,620"/>
<path d="M685,129 L753,129"/>
<path d="M770,219 L770,270 M770,285 L770,426" style="stroke-width:1.7"/>
<path d="M641,338 L701,338"/>
<path d="M720,426 L720,470 M720,500 L720,725" style="stroke-width:1.7"/>
<path d="M767.500,516 L767.500,551" style="stroke-width:1.7"/>
<path d="M960.400,159 L960.400,246" style="stroke-width:2.8"/>
<path d="M1198.900,310 L1198.900,387" style="stroke-width:2.6"/>
<path d="M1354.800,356 L1354.800,446"/>
<path d="M1488,445 L1488,535"/>
<path d="M1055,467 L1055,531"/>
<path d="M1101,593 L1101,602.500 M1101,636 L1101,654.400 L1257,720.500 L1257,652"/>
<path d="M1174.400,686 L1174.400,738.800" style="stroke-width:2.8"/>
<path d="M1038,540.600 L1011,529.400 L1011,789 L934,757.500" style="stroke-width:1.7"/>
<path d="M1393.800,709 L1393.800,777"/>
<path d="M1561,663.100 L1617.500,663.100"/>
<path d="M1662,630.600 L1711.500,630.600"/>
<path d="M1657,713.700 L1677,713.700 M1705,714 L1720.600,714 L1720.600,792.500 L1648,792.500 M1720.600,754 L1764,754" style="stroke-width:2"/>
<path d="M584.800,537.300 L622.400,559.200 L686,534.800 L711.600,548.600 M727,557.600 L746,567" style="stroke-width:1.7"/>
<path d="M583.500,536.300 L596,538.800 L590.500,546.500 Z" fill="#000" style="stroke-width:1"/>
<path d="M586.250,262.900 L613,235 L613,247.500 L627.500,247.500 L627.500,278.750 L613,278.750 L613,292 Z" fill="#fff"/>
<path d="M615.200,467.300 L642.500,438.750 L642.500,452 L657,452 L657,483 L642.500,483 L642.500,496.250 Z" fill="#fff"/>
<rect x="641" y="231.500" width="173.500" height="76" stroke-dasharray="12 5" style="stroke-width:1.7"/>
<rect x="667.500" y="431.600" width="144.300" height="79" stroke-dasharray="12 5" style="stroke-width:1.7"/>
</g>

<g id="labels" opacity="0.999">
<path d="M7.3,-23 L10.2,-23 L10.2,0 L5.8,0 L5.8,-16.6 L2.4,-15.3 L0,-14.6 L0,-19 L4.1,-20.6 Z" transform="translate(225.80,112.00)" fill="#000"/>
<text class="n" x="239.30" y="112.00">7</text>
<text class="n" x="226.40" y="229.00">5</text>
<text class="n" x="242.10" y="346.30">4</text>
<path d="M7.3,-23 L10.2,-23 L10.2,0 L5.8,0 L5.8,-16.6 L2.4,-15.3 L0,-14.6 L0,-19 L4.1,-20.6 Z" transform="translate(337.30,649.20)" fill="#000"/>
<text class="n" x="350.80" y="649.20">4</text>
<path d="M7.3,-23 L10.2,-23 L10.2,0 L5.8,0 L5.8,-16.6 L2.4,-15.3 L0,-14.6 L0,-19 L4.1,-20.6 Z" transform="translate(648.75,140.00)" fill="#000"/>
<text class="n" x="662.25" y="140.00">5</text>
<path d="M7.3,-23 L10.2,-23 L10.2,0 L5.8,0 L5.8,-16.6 L2.4,-15.3 L0,-14.6 L0,-19 L4.1,-20.6 Z" transform="translate(604.25,348.20)" fill="#000"/>
<text class="n" x="617.75" y="348.20">5</text>
<text class="n" x="950.20" y="152.80">7</text>
<text class="n" x="1189.70" y="304.00">6</text>
<text class="n" x="1345.60" y="316.20">8</text>
<text class="n" x="1345.60" y="350.80">9</text>
<text class="n" x="1478.70" y="438.80">3</text>
<path d="M7.3,-23 L10.2,-23 L10.2,0 L5.8,0 L5.8,-16.6 L2.4,-15.3 L0,-14.6 L0,-19 L4.1,-20.6 Z" transform="translate(1039.90,462.80)" fill="#000"/>
<path d="M7.3,-23 L10.2,-23 L10.2,0 L5.8,0 L5.8,-16.6 L2.4,-15.3 L0,-14.6 L0,-19 L4.1,-20.6 Z" transform="translate(1057.70,462.80)" fill="#000"/>
<path d="M7.3,-23 L10.2,-23 L10.2,0 L5.8,0 L5.8,-16.6 L2.4,-15.3 L0,-14.6 L0,-19 L4.1,-20.6 Z" transform="translate(1088.10,630.30)" fill="#000"/>
<text class="n" x="1101.60" y="630.30">0</text>
<text class="n" x="1165.60" y="766.90">2</text>
<path d="M7.3,-23 L10.2,-23 L10.2,0 L5.8,0 L5.8,-16.6 L2.4,-15.3 L0,-14.6 L0,-19 L4.1,-20.6 Z" transform="translate(1381.00,807.40)" fill="#000"/>
<text class="n" x="1394.50" y="807.40">6</text>
<path d="M7.3,-23 L10.2,-23 L10.2,0 L5.8,0 L5.8,-16.6 L2.4,-15.3 L0,-14.6 L0,-19 L4.1,-20.6 Z" transform="translate(1524.00,673.80)" fill="#000"/>
<text class="n" x="1537.50" y="673.80">8</text>
<path d="M7.3,-23 L10.2,-23 L10.2,0 L5.8,0 L5.8,-16.6 L2.4,-15.3 L0,-14.6 L0,-19 L4.1,-20.6 Z" transform="translate(1718.10,642.40)" fill="#000"/>
<text class="n" x="1731.60" y="642.40">9</text>
<path d="M7.3,-23 L10.2,-23 L10.2,0 L5.8,0 L5.8,-16.6 L2.4,-15.3 L0,-14.6 L0,-19 L4.1,-20.6 Z" transform="translate(1684.80,725.00)" fill="#000"/>
<path d="M7.3,-23 L10.2,-23 L10.2,0 L5.8,0 L5.8,-16.6 L2.4,-15.3 L0,-14.6 L0,-19 L4.1,-20.6 Z" transform="translate(1773.10,748.10)" fill="#000"/>
<text class="n" x="1786.60" y="748.10">2</text>
<path d="M7.3,-23 L10.2,-23 L10.2,0 L5.8,0 L5.8,-16.6 L2.4,-15.3 L0,-14.6 L0,-19 L4.1,-20.6 Z" transform="translate(1773.10,782.00)" fill="#000"/>
<text class="n" x="1786.60" y="782.00">3</text>
<rect x="1766.5" y="754.5" width="46" height="33.6" fill="none" stroke="#990033" stroke-width="5"/>
<text class="b" x="501.5" y="272.7" textLength="73.2" lengthAdjust="spacingAndGlyphs">B-48</text>
<text class="b" x="536.2" y="474.9" textLength="73.2" lengthAdjust="spacingAndGlyphs">B-48</text>
<text class="b" x="497.9" y="522" textLength="124.6" lengthAdjust="spacingAndGlyphs">B-33-60</text>
<text x="1627" y="931" font-family="Liberation Serif, serif" font-size="27" textLength="172" lengthAdjust="spacingAndGlyphs">SNA4−B3310</text>
</g>

</svg>
</body></html>
